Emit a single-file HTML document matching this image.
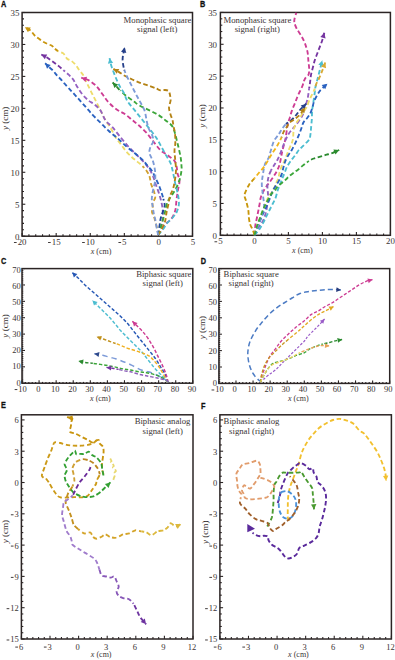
<!DOCTYPE html>
<html><head><meta charset="utf-8"><style>html,body{margin:0;padding:0;background:#fff;width:395px;height:660px;overflow:hidden}svg{display:block}</style></head>
<body><svg width="395" height="660" viewBox="0 0 395 660">
<rect width="395" height="660" fill="#fff"/>
<g stroke="#2b2424" stroke-width="1.1"><line x1="22.10" y1="236.20" x2="22.10" y2="233.00"/><line x1="28.92" y1="236.20" x2="28.92" y2="234.30"/><line x1="35.73" y1="236.20" x2="35.73" y2="234.30"/><line x1="42.55" y1="236.20" x2="42.55" y2="234.30"/><line x1="49.36" y1="236.20" x2="49.36" y2="234.30"/><line x1="56.18" y1="236.20" x2="56.18" y2="233.00"/><line x1="63.00" y1="236.20" x2="63.00" y2="234.30"/><line x1="69.81" y1="236.20" x2="69.81" y2="234.30"/><line x1="76.63" y1="236.20" x2="76.63" y2="234.30"/><line x1="83.44" y1="236.20" x2="83.44" y2="234.30"/><line x1="90.26" y1="236.20" x2="90.26" y2="233.00"/><line x1="97.08" y1="236.20" x2="97.08" y2="234.30"/><line x1="103.89" y1="236.20" x2="103.89" y2="234.30"/><line x1="110.71" y1="236.20" x2="110.71" y2="234.30"/><line x1="117.52" y1="236.20" x2="117.52" y2="234.30"/><line x1="124.34" y1="236.20" x2="124.34" y2="233.00"/><line x1="131.16" y1="236.20" x2="131.16" y2="234.30"/><line x1="137.97" y1="236.20" x2="137.97" y2="234.30"/><line x1="144.79" y1="236.20" x2="144.79" y2="234.30"/><line x1="151.60" y1="236.20" x2="151.60" y2="234.30"/><line x1="158.42" y1="236.20" x2="158.42" y2="233.00"/><line x1="165.24" y1="236.20" x2="165.24" y2="234.30"/><line x1="172.05" y1="236.20" x2="172.05" y2="234.30"/><line x1="178.87" y1="236.20" x2="178.87" y2="234.30"/><line x1="185.68" y1="236.20" x2="185.68" y2="234.30"/><line x1="192.50" y1="236.20" x2="192.50" y2="233.00"/><line x1="22.10" y1="236.20" x2="25.30" y2="236.20"/><line x1="22.10" y1="229.81" x2="24.00" y2="229.81"/><line x1="22.10" y1="223.42" x2="24.00" y2="223.42"/><line x1="22.10" y1="217.03" x2="24.00" y2="217.03"/><line x1="22.10" y1="210.63" x2="24.00" y2="210.63"/><line x1="22.10" y1="204.24" x2="25.30" y2="204.24"/><line x1="22.10" y1="197.85" x2="24.00" y2="197.85"/><line x1="22.10" y1="191.46" x2="24.00" y2="191.46"/><line x1="22.10" y1="185.07" x2="24.00" y2="185.07"/><line x1="22.10" y1="178.68" x2="24.00" y2="178.68"/><line x1="22.10" y1="172.29" x2="25.30" y2="172.29"/><line x1="22.10" y1="165.89" x2="24.00" y2="165.89"/><line x1="22.10" y1="159.50" x2="24.00" y2="159.50"/><line x1="22.10" y1="153.11" x2="24.00" y2="153.11"/><line x1="22.10" y1="146.72" x2="24.00" y2="146.72"/><line x1="22.10" y1="140.33" x2="25.30" y2="140.33"/><line x1="22.10" y1="133.94" x2="24.00" y2="133.94"/><line x1="22.10" y1="127.55" x2="24.00" y2="127.55"/><line x1="22.10" y1="121.15" x2="24.00" y2="121.15"/><line x1="22.10" y1="114.76" x2="24.00" y2="114.76"/><line x1="22.10" y1="108.37" x2="25.30" y2="108.37"/><line x1="22.10" y1="101.98" x2="24.00" y2="101.98"/><line x1="22.10" y1="95.59" x2="24.00" y2="95.59"/><line x1="22.10" y1="89.20" x2="24.00" y2="89.20"/><line x1="22.10" y1="82.81" x2="24.00" y2="82.81"/><line x1="22.10" y1="76.41" x2="25.30" y2="76.41"/><line x1="22.10" y1="70.02" x2="24.00" y2="70.02"/><line x1="22.10" y1="63.63" x2="24.00" y2="63.63"/><line x1="22.10" y1="57.24" x2="24.00" y2="57.24"/><line x1="22.10" y1="50.85" x2="24.00" y2="50.85"/><line x1="22.10" y1="44.46" x2="25.30" y2="44.46"/><line x1="22.10" y1="38.07" x2="24.00" y2="38.07"/><line x1="22.10" y1="31.67" x2="24.00" y2="31.67"/><line x1="22.10" y1="25.28" x2="24.00" y2="25.28"/><line x1="22.10" y1="18.89" x2="24.00" y2="18.89"/><line x1="22.10" y1="12.50" x2="25.30" y2="12.50"/></g>
<rect x="22.10" y="12.50" width="170.40" height="223.70" fill="none" stroke="#2b2424" stroke-width="1.5"/>
<g font-family="Liberation Serif" font-size="8.9" fill="#3a3434"><text x="22.10" y="244.90" text-anchor="middle">20</text><rect x="13.95" y="242.00" width="2.7" height="0.95"/><text x="56.18" y="244.90" text-anchor="middle">15</text><rect x="48.03" y="242.00" width="2.7" height="0.95"/><text x="90.26" y="244.90" text-anchor="middle">10</text><rect x="82.11" y="242.00" width="2.7" height="0.95"/><text x="124.34" y="244.90" text-anchor="middle">5</text><rect x="118.42" y="242.00" width="2.7" height="0.95"/><text x="158.82" y="244.90" text-anchor="middle">0</text><text x="192.90" y="244.90" text-anchor="middle">5</text><text x="19.40" y="239.60" text-anchor="end">0</text><text x="19.40" y="207.64" text-anchor="end">5</text><text x="19.40" y="175.69" text-anchor="end">10</text><text x="19.40" y="143.73" text-anchor="end">15</text><text x="19.40" y="111.77" text-anchor="end">20</text><text x="19.40" y="79.81" text-anchor="end">25</text><text x="19.40" y="47.86" text-anchor="end">30</text><text x="19.40" y="15.90" text-anchor="end">35</text></g>
<text x="101.10" y="253.80" text-anchor="middle" font-family="Liberation Serif" font-size="8" fill="#3a3434"><tspan font-style="italic">x</tspan> (cm)</text>
<text transform="translate(7.90,118.35) rotate(-90)" text-anchor="middle" font-family="Liberation Serif" font-size="9.1" fill="#3a3434"><tspan font-style="italic">y</tspan> (cm)</text>
<g stroke="#2b2424" stroke-width="1.1"><line x1="220.40" y1="235.30" x2="220.40" y2="232.10"/><line x1="227.20" y1="235.30" x2="227.20" y2="233.40"/><line x1="234.00" y1="235.30" x2="234.00" y2="233.40"/><line x1="240.80" y1="235.30" x2="240.80" y2="233.40"/><line x1="247.60" y1="235.30" x2="247.60" y2="233.40"/><line x1="254.40" y1="235.30" x2="254.40" y2="232.10"/><line x1="261.20" y1="235.30" x2="261.20" y2="233.40"/><line x1="268.00" y1="235.30" x2="268.00" y2="233.40"/><line x1="274.80" y1="235.30" x2="274.80" y2="233.40"/><line x1="281.60" y1="235.30" x2="281.60" y2="233.40"/><line x1="288.40" y1="235.30" x2="288.40" y2="232.10"/><line x1="295.20" y1="235.30" x2="295.20" y2="233.40"/><line x1="302.00" y1="235.30" x2="302.00" y2="233.40"/><line x1="308.80" y1="235.30" x2="308.80" y2="233.40"/><line x1="315.60" y1="235.30" x2="315.60" y2="233.40"/><line x1="322.40" y1="235.30" x2="322.40" y2="232.10"/><line x1="329.20" y1="235.30" x2="329.20" y2="233.40"/><line x1="336.00" y1="235.30" x2="336.00" y2="233.40"/><line x1="342.80" y1="235.30" x2="342.80" y2="233.40"/><line x1="349.60" y1="235.30" x2="349.60" y2="233.40"/><line x1="356.40" y1="235.30" x2="356.40" y2="232.10"/><line x1="363.20" y1="235.30" x2="363.20" y2="233.40"/><line x1="370.00" y1="235.30" x2="370.00" y2="233.40"/><line x1="376.80" y1="235.30" x2="376.80" y2="233.40"/><line x1="383.60" y1="235.30" x2="383.60" y2="233.40"/><line x1="390.40" y1="235.30" x2="390.40" y2="232.10"/><line x1="220.40" y1="235.30" x2="223.60" y2="235.30"/><line x1="220.40" y1="228.93" x2="222.30" y2="228.93"/><line x1="220.40" y1="222.57" x2="222.30" y2="222.57"/><line x1="220.40" y1="216.20" x2="222.30" y2="216.20"/><line x1="220.40" y1="209.83" x2="222.30" y2="209.83"/><line x1="220.40" y1="203.46" x2="223.60" y2="203.46"/><line x1="220.40" y1="197.10" x2="222.30" y2="197.10"/><line x1="220.40" y1="190.73" x2="222.30" y2="190.73"/><line x1="220.40" y1="184.36" x2="222.30" y2="184.36"/><line x1="220.40" y1="178.00" x2="222.30" y2="178.00"/><line x1="220.40" y1="171.63" x2="223.60" y2="171.63"/><line x1="220.40" y1="165.26" x2="222.30" y2="165.26"/><line x1="220.40" y1="158.89" x2="222.30" y2="158.89"/><line x1="220.40" y1="152.53" x2="222.30" y2="152.53"/><line x1="220.40" y1="146.16" x2="222.30" y2="146.16"/><line x1="220.40" y1="139.79" x2="223.60" y2="139.79"/><line x1="220.40" y1="133.43" x2="222.30" y2="133.43"/><line x1="220.40" y1="127.06" x2="222.30" y2="127.06"/><line x1="220.40" y1="120.69" x2="222.30" y2="120.69"/><line x1="220.40" y1="114.32" x2="222.30" y2="114.32"/><line x1="220.40" y1="107.96" x2="223.60" y2="107.96"/><line x1="220.40" y1="101.59" x2="222.30" y2="101.59"/><line x1="220.40" y1="95.22" x2="222.30" y2="95.22"/><line x1="220.40" y1="88.86" x2="222.30" y2="88.86"/><line x1="220.40" y1="82.49" x2="222.30" y2="82.49"/><line x1="220.40" y1="76.12" x2="223.60" y2="76.12"/><line x1="220.40" y1="69.75" x2="222.30" y2="69.75"/><line x1="220.40" y1="63.39" x2="222.30" y2="63.39"/><line x1="220.40" y1="57.02" x2="222.30" y2="57.02"/><line x1="220.40" y1="50.65" x2="222.30" y2="50.65"/><line x1="220.40" y1="44.29" x2="223.60" y2="44.29"/><line x1="220.40" y1="37.92" x2="222.30" y2="37.92"/><line x1="220.40" y1="31.55" x2="222.30" y2="31.55"/><line x1="220.40" y1="25.18" x2="222.30" y2="25.18"/><line x1="220.40" y1="18.82" x2="222.30" y2="18.82"/><line x1="220.40" y1="12.45" x2="223.60" y2="12.45"/></g>
<rect x="220.40" y="12.45" width="170.00" height="222.85" fill="none" stroke="#2b2424" stroke-width="1.5"/>
<g font-family="Liberation Serif" font-size="8.9" fill="#3a3434"><text x="220.40" y="244.20" text-anchor="middle">5</text><rect x="214.48" y="241.30" width="2.7" height="0.95"/><text x="254.40" y="244.20" text-anchor="middle">0</text><text x="288.40" y="244.20" text-anchor="middle">5</text><text x="322.40" y="244.20" text-anchor="middle">10</text><text x="356.40" y="244.20" text-anchor="middle">15</text><text x="390.40" y="244.20" text-anchor="middle">20</text><text x="217.00" y="238.70" text-anchor="end">0</text><text x="217.00" y="206.86" text-anchor="end">5</text><text x="217.00" y="175.03" text-anchor="end">10</text><text x="217.00" y="143.19" text-anchor="end">15</text><text x="217.00" y="111.36" text-anchor="end">20</text><text x="217.00" y="79.52" text-anchor="end">25</text><text x="217.00" y="47.69" text-anchor="end">30</text><text x="217.00" y="15.85" text-anchor="end">35</text></g>
<text x="302.40" y="252.90" text-anchor="middle" font-family="Liberation Serif" font-size="8" fill="#3a3434"><tspan font-style="italic">x</tspan> (cm)</text>
<text transform="translate(205.10,115.88) rotate(-90)" text-anchor="middle" font-family="Liberation Serif" font-size="9.1" fill="#3a3434"><tspan font-style="italic">y</tspan> (cm)</text>
<g stroke="#2b2424" stroke-width="1.1"><line x1="22.00" y1="383.20" x2="22.00" y2="380.20"/><line x1="25.42" y1="383.20" x2="25.42" y2="381.90"/><line x1="28.83" y1="383.20" x2="28.83" y2="381.90"/><line x1="32.25" y1="383.20" x2="32.25" y2="381.90"/><line x1="35.66" y1="383.20" x2="35.66" y2="381.90"/><line x1="39.08" y1="383.20" x2="39.08" y2="380.20"/><line x1="42.50" y1="383.20" x2="42.50" y2="381.90"/><line x1="45.91" y1="383.20" x2="45.91" y2="381.90"/><line x1="49.33" y1="383.20" x2="49.33" y2="381.90"/><line x1="52.74" y1="383.20" x2="52.74" y2="381.90"/><line x1="56.16" y1="383.20" x2="56.16" y2="380.20"/><line x1="59.58" y1="383.20" x2="59.58" y2="381.90"/><line x1="62.99" y1="383.20" x2="62.99" y2="381.90"/><line x1="66.41" y1="383.20" x2="66.41" y2="381.90"/><line x1="69.82" y1="383.20" x2="69.82" y2="381.90"/><line x1="73.24" y1="383.20" x2="73.24" y2="380.20"/><line x1="76.66" y1="383.20" x2="76.66" y2="381.90"/><line x1="80.07" y1="383.20" x2="80.07" y2="381.90"/><line x1="83.49" y1="383.20" x2="83.49" y2="381.90"/><line x1="86.90" y1="383.20" x2="86.90" y2="381.90"/><line x1="90.32" y1="383.20" x2="90.32" y2="380.20"/><line x1="93.74" y1="383.20" x2="93.74" y2="381.90"/><line x1="97.15" y1="383.20" x2="97.15" y2="381.90"/><line x1="100.57" y1="383.20" x2="100.57" y2="381.90"/><line x1="103.98" y1="383.20" x2="103.98" y2="381.90"/><line x1="107.40" y1="383.20" x2="107.40" y2="380.20"/><line x1="110.82" y1="383.20" x2="110.82" y2="381.90"/><line x1="114.23" y1="383.20" x2="114.23" y2="381.90"/><line x1="117.65" y1="383.20" x2="117.65" y2="381.90"/><line x1="121.06" y1="383.20" x2="121.06" y2="381.90"/><line x1="124.48" y1="383.20" x2="124.48" y2="380.20"/><line x1="127.90" y1="383.20" x2="127.90" y2="381.90"/><line x1="131.31" y1="383.20" x2="131.31" y2="381.90"/><line x1="134.73" y1="383.20" x2="134.73" y2="381.90"/><line x1="138.14" y1="383.20" x2="138.14" y2="381.90"/><line x1="141.56" y1="383.20" x2="141.56" y2="380.20"/><line x1="144.98" y1="383.20" x2="144.98" y2="381.90"/><line x1="148.39" y1="383.20" x2="148.39" y2="381.90"/><line x1="151.81" y1="383.20" x2="151.81" y2="381.90"/><line x1="155.22" y1="383.20" x2="155.22" y2="381.90"/><line x1="158.64" y1="383.20" x2="158.64" y2="380.20"/><line x1="162.06" y1="383.20" x2="162.06" y2="381.90"/><line x1="165.47" y1="383.20" x2="165.47" y2="381.90"/><line x1="168.89" y1="383.20" x2="168.89" y2="381.90"/><line x1="172.30" y1="383.20" x2="172.30" y2="381.90"/><line x1="175.72" y1="383.20" x2="175.72" y2="380.20"/><line x1="179.14" y1="383.20" x2="179.14" y2="381.90"/><line x1="182.55" y1="383.20" x2="182.55" y2="381.90"/><line x1="185.97" y1="383.20" x2="185.97" y2="381.90"/><line x1="189.38" y1="383.20" x2="189.38" y2="381.90"/><line x1="192.80" y1="383.20" x2="192.80" y2="380.20"/><line x1="22.00" y1="383.20" x2="25.00" y2="383.20"/><line x1="22.00" y1="381.15" x2="23.30" y2="381.15"/><line x1="22.00" y1="379.11" x2="23.30" y2="379.11"/><line x1="22.00" y1="377.06" x2="23.30" y2="377.06"/><line x1="22.00" y1="375.01" x2="23.30" y2="375.01"/><line x1="22.00" y1="372.97" x2="23.30" y2="372.97"/><line x1="22.00" y1="370.92" x2="23.30" y2="370.92"/><line x1="22.00" y1="368.88" x2="23.30" y2="368.88"/><line x1="22.00" y1="366.83" x2="25.00" y2="366.83"/><line x1="22.00" y1="364.78" x2="23.30" y2="364.78"/><line x1="22.00" y1="362.74" x2="23.30" y2="362.74"/><line x1="22.00" y1="360.69" x2="23.30" y2="360.69"/><line x1="22.00" y1="358.64" x2="23.30" y2="358.64"/><line x1="22.00" y1="356.60" x2="23.30" y2="356.60"/><line x1="22.00" y1="354.55" x2="23.30" y2="354.55"/><line x1="22.00" y1="352.50" x2="23.30" y2="352.50"/><line x1="22.00" y1="350.46" x2="25.00" y2="350.46"/><line x1="22.00" y1="348.41" x2="23.30" y2="348.41"/><line x1="22.00" y1="346.36" x2="23.30" y2="346.36"/><line x1="22.00" y1="344.32" x2="23.30" y2="344.32"/><line x1="22.00" y1="342.27" x2="23.30" y2="342.27"/><line x1="22.00" y1="340.23" x2="23.30" y2="340.23"/><line x1="22.00" y1="338.18" x2="23.30" y2="338.18"/><line x1="22.00" y1="336.13" x2="23.30" y2="336.13"/><line x1="22.00" y1="334.09" x2="25.00" y2="334.09"/><line x1="22.00" y1="332.04" x2="23.30" y2="332.04"/><line x1="22.00" y1="329.99" x2="23.30" y2="329.99"/><line x1="22.00" y1="327.95" x2="23.30" y2="327.95"/><line x1="22.00" y1="325.90" x2="23.30" y2="325.90"/><line x1="22.00" y1="323.85" x2="23.30" y2="323.85"/><line x1="22.00" y1="321.81" x2="23.30" y2="321.81"/><line x1="22.00" y1="319.76" x2="23.30" y2="319.76"/><line x1="22.00" y1="317.71" x2="25.00" y2="317.71"/><line x1="22.00" y1="315.67" x2="23.30" y2="315.67"/><line x1="22.00" y1="313.62" x2="23.30" y2="313.62"/><line x1="22.00" y1="311.58" x2="23.30" y2="311.58"/><line x1="22.00" y1="309.53" x2="23.30" y2="309.53"/><line x1="22.00" y1="307.48" x2="23.30" y2="307.48"/><line x1="22.00" y1="305.44" x2="23.30" y2="305.44"/><line x1="22.00" y1="303.39" x2="23.30" y2="303.39"/><line x1="22.00" y1="301.34" x2="25.00" y2="301.34"/><line x1="22.00" y1="299.30" x2="23.30" y2="299.30"/><line x1="22.00" y1="297.25" x2="23.30" y2="297.25"/><line x1="22.00" y1="295.20" x2="23.30" y2="295.20"/><line x1="22.00" y1="293.16" x2="23.30" y2="293.16"/><line x1="22.00" y1="291.11" x2="23.30" y2="291.11"/><line x1="22.00" y1="289.06" x2="23.30" y2="289.06"/><line x1="22.00" y1="287.02" x2="23.30" y2="287.02"/><line x1="22.00" y1="284.97" x2="25.00" y2="284.97"/><line x1="22.00" y1="282.93" x2="23.30" y2="282.93"/><line x1="22.00" y1="280.88" x2="23.30" y2="280.88"/><line x1="22.00" y1="278.83" x2="23.30" y2="278.83"/><line x1="22.00" y1="276.79" x2="23.30" y2="276.79"/><line x1="22.00" y1="274.74" x2="23.30" y2="274.74"/><line x1="22.00" y1="272.69" x2="23.30" y2="272.69"/><line x1="22.00" y1="270.65" x2="23.30" y2="270.65"/><line x1="22.00" y1="268.60" x2="25.00" y2="268.60"/></g>
<rect x="22.00" y="268.60" width="170.80" height="114.60" fill="none" stroke="#2b2424" stroke-width="1.5"/>
<g font-family="Liberation Serif" font-size="8.5" fill="#3a3434"><text x="22.60" y="392.00" text-anchor="middle">10</text><rect x="14.65" y="389.10" width="2.7" height="0.95"/><text x="38.28" y="392.00" text-anchor="middle">0</text><text x="55.36" y="392.00" text-anchor="middle">10</text><text x="72.44" y="392.00" text-anchor="middle">20</text><text x="89.52" y="392.00" text-anchor="middle">30</text><text x="106.60" y="392.00" text-anchor="middle">40</text><text x="123.68" y="392.00" text-anchor="middle">50</text><text x="140.76" y="392.00" text-anchor="middle">60</text><text x="157.84" y="392.00" text-anchor="middle">70</text><text x="174.92" y="392.00" text-anchor="middle">80</text><text x="192.00" y="392.00" text-anchor="middle">90</text><text x="20.70" y="385.55" text-anchor="end">0</text><text x="20.70" y="369.48" text-anchor="end">10</text><text x="20.70" y="353.41" text-anchor="end">20</text><text x="20.70" y="337.34" text-anchor="end">30</text><text x="20.70" y="321.26" text-anchor="end">40</text><text x="20.70" y="305.19" text-anchor="end">50</text><text x="20.70" y="289.12" text-anchor="end">60</text><text x="20.70" y="273.05" text-anchor="end">70</text></g>
<text x="100.40" y="400.80" text-anchor="middle" font-family="Liberation Serif" font-size="8" fill="#3a3434"><tspan font-style="italic">x</tspan> (cm)</text>
<text transform="translate(8.30,325.90) rotate(-90)" text-anchor="middle" font-family="Liberation Serif" font-size="9.1" fill="#3a3434"><tspan font-style="italic">y</tspan> (cm)</text>
<g stroke="#2b2424" stroke-width="1.1"><line x1="218.90" y1="383.40" x2="218.90" y2="380.40"/><line x1="222.32" y1="383.40" x2="222.32" y2="382.10"/><line x1="225.73" y1="383.40" x2="225.73" y2="382.10"/><line x1="229.15" y1="383.40" x2="229.15" y2="382.10"/><line x1="232.56" y1="383.40" x2="232.56" y2="382.10"/><line x1="235.98" y1="383.40" x2="235.98" y2="380.40"/><line x1="239.40" y1="383.40" x2="239.40" y2="382.10"/><line x1="242.81" y1="383.40" x2="242.81" y2="382.10"/><line x1="246.23" y1="383.40" x2="246.23" y2="382.10"/><line x1="249.64" y1="383.40" x2="249.64" y2="382.10"/><line x1="253.06" y1="383.40" x2="253.06" y2="380.40"/><line x1="256.48" y1="383.40" x2="256.48" y2="382.10"/><line x1="259.89" y1="383.40" x2="259.89" y2="382.10"/><line x1="263.31" y1="383.40" x2="263.31" y2="382.10"/><line x1="266.72" y1="383.40" x2="266.72" y2="382.10"/><line x1="270.14" y1="383.40" x2="270.14" y2="380.40"/><line x1="273.56" y1="383.40" x2="273.56" y2="382.10"/><line x1="276.97" y1="383.40" x2="276.97" y2="382.10"/><line x1="280.39" y1="383.40" x2="280.39" y2="382.10"/><line x1="283.80" y1="383.40" x2="283.80" y2="382.10"/><line x1="287.22" y1="383.40" x2="287.22" y2="380.40"/><line x1="290.64" y1="383.40" x2="290.64" y2="382.10"/><line x1="294.05" y1="383.40" x2="294.05" y2="382.10"/><line x1="297.47" y1="383.40" x2="297.47" y2="382.10"/><line x1="300.88" y1="383.40" x2="300.88" y2="382.10"/><line x1="304.30" y1="383.40" x2="304.30" y2="380.40"/><line x1="307.72" y1="383.40" x2="307.72" y2="382.10"/><line x1="311.13" y1="383.40" x2="311.13" y2="382.10"/><line x1="314.55" y1="383.40" x2="314.55" y2="382.10"/><line x1="317.96" y1="383.40" x2="317.96" y2="382.10"/><line x1="321.38" y1="383.40" x2="321.38" y2="380.40"/><line x1="324.80" y1="383.40" x2="324.80" y2="382.10"/><line x1="328.21" y1="383.40" x2="328.21" y2="382.10"/><line x1="331.63" y1="383.40" x2="331.63" y2="382.10"/><line x1="335.04" y1="383.40" x2="335.04" y2="382.10"/><line x1="338.46" y1="383.40" x2="338.46" y2="380.40"/><line x1="341.88" y1="383.40" x2="341.88" y2="382.10"/><line x1="345.29" y1="383.40" x2="345.29" y2="382.10"/><line x1="348.71" y1="383.40" x2="348.71" y2="382.10"/><line x1="352.12" y1="383.40" x2="352.12" y2="382.10"/><line x1="355.54" y1="383.40" x2="355.54" y2="380.40"/><line x1="358.96" y1="383.40" x2="358.96" y2="382.10"/><line x1="362.37" y1="383.40" x2="362.37" y2="382.10"/><line x1="365.79" y1="383.40" x2="365.79" y2="382.10"/><line x1="369.20" y1="383.40" x2="369.20" y2="382.10"/><line x1="372.62" y1="383.40" x2="372.62" y2="380.40"/><line x1="376.04" y1="383.40" x2="376.04" y2="382.10"/><line x1="379.45" y1="383.40" x2="379.45" y2="382.10"/><line x1="382.87" y1="383.40" x2="382.87" y2="382.10"/><line x1="386.28" y1="383.40" x2="386.28" y2="382.10"/><line x1="389.70" y1="383.40" x2="389.70" y2="380.40"/><line x1="218.90" y1="383.40" x2="221.90" y2="383.40"/><line x1="218.90" y1="381.35" x2="220.20" y2="381.35"/><line x1="218.90" y1="379.30" x2="220.20" y2="379.30"/><line x1="218.90" y1="377.25" x2="220.20" y2="377.25"/><line x1="218.90" y1="375.20" x2="220.20" y2="375.20"/><line x1="218.90" y1="373.15" x2="220.20" y2="373.15"/><line x1="218.90" y1="371.10" x2="220.20" y2="371.10"/><line x1="218.90" y1="369.05" x2="220.20" y2="369.05"/><line x1="218.90" y1="367.00" x2="221.90" y2="367.00"/><line x1="218.90" y1="364.95" x2="220.20" y2="364.95"/><line x1="218.90" y1="362.90" x2="220.20" y2="362.90"/><line x1="218.90" y1="360.85" x2="220.20" y2="360.85"/><line x1="218.90" y1="358.80" x2="220.20" y2="358.80"/><line x1="218.90" y1="356.75" x2="220.20" y2="356.75"/><line x1="218.90" y1="354.70" x2="220.20" y2="354.70"/><line x1="218.90" y1="352.65" x2="220.20" y2="352.65"/><line x1="218.90" y1="350.60" x2="221.90" y2="350.60"/><line x1="218.90" y1="348.55" x2="220.20" y2="348.55"/><line x1="218.90" y1="346.50" x2="220.20" y2="346.50"/><line x1="218.90" y1="344.45" x2="220.20" y2="344.45"/><line x1="218.90" y1="342.40" x2="220.20" y2="342.40"/><line x1="218.90" y1="340.35" x2="220.20" y2="340.35"/><line x1="218.90" y1="338.30" x2="220.20" y2="338.30"/><line x1="218.90" y1="336.25" x2="220.20" y2="336.25"/><line x1="218.90" y1="334.20" x2="221.90" y2="334.20"/><line x1="218.90" y1="332.15" x2="220.20" y2="332.15"/><line x1="218.90" y1="330.10" x2="220.20" y2="330.10"/><line x1="218.90" y1="328.05" x2="220.20" y2="328.05"/><line x1="218.90" y1="326.00" x2="220.20" y2="326.00"/><line x1="218.90" y1="323.95" x2="220.20" y2="323.95"/><line x1="218.90" y1="321.90" x2="220.20" y2="321.90"/><line x1="218.90" y1="319.85" x2="220.20" y2="319.85"/><line x1="218.90" y1="317.80" x2="221.90" y2="317.80"/><line x1="218.90" y1="315.75" x2="220.20" y2="315.75"/><line x1="218.90" y1="313.70" x2="220.20" y2="313.70"/><line x1="218.90" y1="311.65" x2="220.20" y2="311.65"/><line x1="218.90" y1="309.60" x2="220.20" y2="309.60"/><line x1="218.90" y1="307.55" x2="220.20" y2="307.55"/><line x1="218.90" y1="305.50" x2="220.20" y2="305.50"/><line x1="218.90" y1="303.45" x2="220.20" y2="303.45"/><line x1="218.90" y1="301.40" x2="221.90" y2="301.40"/><line x1="218.90" y1="299.35" x2="220.20" y2="299.35"/><line x1="218.90" y1="297.30" x2="220.20" y2="297.30"/><line x1="218.90" y1="295.25" x2="220.20" y2="295.25"/><line x1="218.90" y1="293.20" x2="220.20" y2="293.20"/><line x1="218.90" y1="291.15" x2="220.20" y2="291.15"/><line x1="218.90" y1="289.10" x2="220.20" y2="289.10"/><line x1="218.90" y1="287.05" x2="220.20" y2="287.05"/><line x1="218.90" y1="285.00" x2="221.90" y2="285.00"/><line x1="218.90" y1="282.95" x2="220.20" y2="282.95"/><line x1="218.90" y1="280.90" x2="220.20" y2="280.90"/><line x1="218.90" y1="278.85" x2="220.20" y2="278.85"/><line x1="218.90" y1="276.80" x2="220.20" y2="276.80"/><line x1="218.90" y1="274.75" x2="220.20" y2="274.75"/><line x1="218.90" y1="272.70" x2="220.20" y2="272.70"/><line x1="218.90" y1="270.65" x2="220.20" y2="270.65"/><line x1="218.90" y1="268.60" x2="221.90" y2="268.60"/></g>
<rect x="218.90" y="268.60" width="170.80" height="114.80" fill="none" stroke="#2b2424" stroke-width="1.5"/>
<g font-family="Liberation Serif" font-size="8.5" fill="#3a3434"><text x="219.50" y="392.40" text-anchor="middle">10</text><rect x="211.55" y="389.50" width="2.7" height="0.95"/><text x="234.58" y="392.40" text-anchor="middle">0</text><text x="251.66" y="392.40" text-anchor="middle">10</text><text x="268.74" y="392.40" text-anchor="middle">20</text><text x="285.82" y="392.40" text-anchor="middle">30</text><text x="302.90" y="392.40" text-anchor="middle">40</text><text x="319.98" y="392.40" text-anchor="middle">50</text><text x="337.06" y="392.40" text-anchor="middle">60</text><text x="354.14" y="392.40" text-anchor="middle">70</text><text x="371.22" y="392.40" text-anchor="middle">80</text><text x="388.30" y="392.40" text-anchor="middle">90</text><text x="216.90" y="385.75" text-anchor="end">0</text><text x="216.90" y="369.65" text-anchor="end">10</text><text x="216.90" y="353.55" text-anchor="end">20</text><text x="216.90" y="337.45" text-anchor="end">30</text><text x="216.90" y="321.35" text-anchor="end">40</text><text x="216.90" y="305.25" text-anchor="end">50</text><text x="216.90" y="289.15" text-anchor="end">60</text><text x="216.90" y="273.05" text-anchor="end">70</text></g>
<text x="298.30" y="401.00" text-anchor="middle" font-family="Liberation Serif" font-size="8" fill="#3a3434"><tspan font-style="italic">x</tspan> (cm)</text>
<text transform="translate(205.40,327.60) rotate(-90)" text-anchor="middle" font-family="Liberation Serif" font-size="9.1" fill="#3a3434"><tspan font-style="italic">y</tspan> (cm)</text>
<g stroke="#2b2424" stroke-width="1.1"><line x1="21.40" y1="639.00" x2="21.40" y2="635.80"/><line x1="27.12" y1="639.00" x2="27.12" y2="637.10"/><line x1="32.84" y1="639.00" x2="32.84" y2="637.10"/><line x1="38.56" y1="639.00" x2="38.56" y2="637.10"/><line x1="44.28" y1="639.00" x2="44.28" y2="637.10"/><line x1="50.00" y1="639.00" x2="50.00" y2="635.80"/><line x1="55.72" y1="639.00" x2="55.72" y2="637.10"/><line x1="61.44" y1="639.00" x2="61.44" y2="637.10"/><line x1="67.16" y1="639.00" x2="67.16" y2="637.10"/><line x1="72.88" y1="639.00" x2="72.88" y2="637.10"/><line x1="78.60" y1="639.00" x2="78.60" y2="635.80"/><line x1="84.32" y1="639.00" x2="84.32" y2="637.10"/><line x1="90.04" y1="639.00" x2="90.04" y2="637.10"/><line x1="95.76" y1="639.00" x2="95.76" y2="637.10"/><line x1="101.48" y1="639.00" x2="101.48" y2="637.10"/><line x1="107.20" y1="639.00" x2="107.20" y2="635.80"/><line x1="112.92" y1="639.00" x2="112.92" y2="637.10"/><line x1="118.64" y1="639.00" x2="118.64" y2="637.10"/><line x1="124.36" y1="639.00" x2="124.36" y2="637.10"/><line x1="130.08" y1="639.00" x2="130.08" y2="637.10"/><line x1="135.80" y1="639.00" x2="135.80" y2="635.80"/><line x1="141.52" y1="639.00" x2="141.52" y2="637.10"/><line x1="147.24" y1="639.00" x2="147.24" y2="637.10"/><line x1="152.96" y1="639.00" x2="152.96" y2="637.10"/><line x1="158.68" y1="639.00" x2="158.68" y2="637.10"/><line x1="164.40" y1="639.00" x2="164.40" y2="635.80"/><line x1="170.12" y1="639.00" x2="170.12" y2="637.10"/><line x1="175.84" y1="639.00" x2="175.84" y2="637.10"/><line x1="181.56" y1="639.00" x2="181.56" y2="637.10"/><line x1="187.28" y1="639.00" x2="187.28" y2="637.10"/><line x1="193.00" y1="639.00" x2="193.00" y2="635.80"/><line x1="21.40" y1="639.00" x2="24.60" y2="639.00"/><line x1="21.40" y1="632.74" x2="23.30" y2="632.74"/><line x1="21.40" y1="626.48" x2="23.30" y2="626.48"/><line x1="21.40" y1="620.22" x2="23.30" y2="620.22"/><line x1="21.40" y1="613.96" x2="23.30" y2="613.96"/><line x1="21.40" y1="607.70" x2="24.60" y2="607.70"/><line x1="21.40" y1="601.44" x2="23.30" y2="601.44"/><line x1="21.40" y1="595.18" x2="23.30" y2="595.18"/><line x1="21.40" y1="588.92" x2="23.30" y2="588.92"/><line x1="21.40" y1="582.66" x2="23.30" y2="582.66"/><line x1="21.40" y1="576.40" x2="24.60" y2="576.40"/><line x1="21.40" y1="570.14" x2="23.30" y2="570.14"/><line x1="21.40" y1="563.88" x2="23.30" y2="563.88"/><line x1="21.40" y1="557.62" x2="23.30" y2="557.62"/><line x1="21.40" y1="551.36" x2="23.30" y2="551.36"/><line x1="21.40" y1="545.11" x2="24.60" y2="545.11"/><line x1="21.40" y1="538.85" x2="23.30" y2="538.85"/><line x1="21.40" y1="532.59" x2="23.30" y2="532.59"/><line x1="21.40" y1="526.33" x2="23.30" y2="526.33"/><line x1="21.40" y1="520.07" x2="23.30" y2="520.07"/><line x1="21.40" y1="513.81" x2="24.60" y2="513.81"/><line x1="21.40" y1="507.55" x2="23.30" y2="507.55"/><line x1="21.40" y1="501.29" x2="23.30" y2="501.29"/><line x1="21.40" y1="495.03" x2="23.30" y2="495.03"/><line x1="21.40" y1="488.77" x2="23.30" y2="488.77"/><line x1="21.40" y1="482.51" x2="24.60" y2="482.51"/><line x1="21.40" y1="476.25" x2="23.30" y2="476.25"/><line x1="21.40" y1="469.99" x2="23.30" y2="469.99"/><line x1="21.40" y1="463.73" x2="23.30" y2="463.73"/><line x1="21.40" y1="457.47" x2="23.30" y2="457.47"/><line x1="21.40" y1="451.21" x2="24.60" y2="451.21"/><line x1="21.40" y1="444.95" x2="23.30" y2="444.95"/><line x1="21.40" y1="438.69" x2="23.30" y2="438.69"/><line x1="21.40" y1="432.43" x2="23.30" y2="432.43"/><line x1="21.40" y1="426.17" x2="23.30" y2="426.17"/><line x1="21.40" y1="419.91" x2="24.60" y2="419.91"/></g>
<rect x="21.40" y="414.80" width="171.60" height="224.20" fill="none" stroke="#2b2424" stroke-width="1.5"/>
<g font-family="Liberation Serif" font-size="8.5" fill="#3a3434"><text x="21.10" y="649.50" text-anchor="middle">6</text><rect x="15.27" y="646.60" width="2.7" height="0.95"/><text x="49.70" y="649.50" text-anchor="middle">3</text><rect x="43.88" y="646.60" width="2.7" height="0.95"/><text x="77.60" y="649.50" text-anchor="middle">0</text><text x="106.20" y="649.50" text-anchor="middle">3</text><text x="134.80" y="649.50" text-anchor="middle">6</text><text x="163.40" y="649.50" text-anchor="middle">9</text><text x="192.00" y="649.50" text-anchor="middle">12</text><text x="18.80" y="642.40" text-anchor="end">15</text><rect x="6.60" y="639.50" width="2.7" height="0.95"/><text x="18.80" y="611.10" text-anchor="end">12</text><rect x="6.60" y="608.20" width="2.7" height="0.95"/><text x="18.80" y="579.80" text-anchor="end">9</text><rect x="10.85" y="576.90" width="2.7" height="0.95"/><text x="18.80" y="548.51" text-anchor="end">6</text><rect x="10.85" y="545.61" width="2.7" height="0.95"/><text x="18.80" y="517.21" text-anchor="end">3</text><rect x="10.85" y="514.31" width="2.7" height="0.95"/><text x="18.80" y="485.91" text-anchor="end">0</text><text x="18.80" y="454.61" text-anchor="end">3</text><text x="18.80" y="423.31" text-anchor="end">6</text></g>
<text x="101.20" y="657.00" text-anchor="middle" font-family="Liberation Serif" font-size="8" fill="#3a3434"><tspan font-style="italic">x</tspan> (cm)</text>
<text transform="translate(8.00,531.60) rotate(-90)" text-anchor="middle" font-family="Liberation Serif" font-size="9.1" fill="#3a3434"><tspan font-style="italic">y</tspan> (cm)</text>
<g stroke="#2b2424" stroke-width="1.1"><line x1="219.90" y1="639.00" x2="219.90" y2="635.80"/><line x1="225.62" y1="639.00" x2="225.62" y2="637.10"/><line x1="231.33" y1="639.00" x2="231.33" y2="637.10"/><line x1="237.05" y1="639.00" x2="237.05" y2="637.10"/><line x1="242.77" y1="639.00" x2="242.77" y2="637.10"/><line x1="248.48" y1="639.00" x2="248.48" y2="635.80"/><line x1="254.20" y1="639.00" x2="254.20" y2="637.10"/><line x1="259.92" y1="639.00" x2="259.92" y2="637.10"/><line x1="265.63" y1="639.00" x2="265.63" y2="637.10"/><line x1="271.35" y1="639.00" x2="271.35" y2="637.10"/><line x1="277.07" y1="639.00" x2="277.07" y2="635.80"/><line x1="282.78" y1="639.00" x2="282.78" y2="637.10"/><line x1="288.50" y1="639.00" x2="288.50" y2="637.10"/><line x1="294.22" y1="639.00" x2="294.22" y2="637.10"/><line x1="299.93" y1="639.00" x2="299.93" y2="637.10"/><line x1="305.65" y1="639.00" x2="305.65" y2="635.80"/><line x1="311.37" y1="639.00" x2="311.37" y2="637.10"/><line x1="317.08" y1="639.00" x2="317.08" y2="637.10"/><line x1="322.80" y1="639.00" x2="322.80" y2="637.10"/><line x1="328.52" y1="639.00" x2="328.52" y2="637.10"/><line x1="334.23" y1="639.00" x2="334.23" y2="635.80"/><line x1="339.95" y1="639.00" x2="339.95" y2="637.10"/><line x1="345.67" y1="639.00" x2="345.67" y2="637.10"/><line x1="351.38" y1="639.00" x2="351.38" y2="637.10"/><line x1="357.10" y1="639.00" x2="357.10" y2="637.10"/><line x1="362.82" y1="639.00" x2="362.82" y2="635.80"/><line x1="368.53" y1="639.00" x2="368.53" y2="637.10"/><line x1="374.25" y1="639.00" x2="374.25" y2="637.10"/><line x1="379.97" y1="639.00" x2="379.97" y2="637.10"/><line x1="385.68" y1="639.00" x2="385.68" y2="637.10"/><line x1="391.40" y1="639.00" x2="391.40" y2="635.80"/><line x1="219.90" y1="639.00" x2="223.10" y2="639.00"/><line x1="219.90" y1="632.74" x2="221.80" y2="632.74"/><line x1="219.90" y1="626.48" x2="221.80" y2="626.48"/><line x1="219.90" y1="620.22" x2="221.80" y2="620.22"/><line x1="219.90" y1="613.96" x2="221.80" y2="613.96"/><line x1="219.90" y1="607.70" x2="223.10" y2="607.70"/><line x1="219.90" y1="601.44" x2="221.80" y2="601.44"/><line x1="219.90" y1="595.18" x2="221.80" y2="595.18"/><line x1="219.90" y1="588.92" x2="221.80" y2="588.92"/><line x1="219.90" y1="582.66" x2="221.80" y2="582.66"/><line x1="219.90" y1="576.40" x2="223.10" y2="576.40"/><line x1="219.90" y1="570.14" x2="221.80" y2="570.14"/><line x1="219.90" y1="563.88" x2="221.80" y2="563.88"/><line x1="219.90" y1="557.62" x2="221.80" y2="557.62"/><line x1="219.90" y1="551.36" x2="221.80" y2="551.36"/><line x1="219.90" y1="545.11" x2="223.10" y2="545.11"/><line x1="219.90" y1="538.85" x2="221.80" y2="538.85"/><line x1="219.90" y1="532.59" x2="221.80" y2="532.59"/><line x1="219.90" y1="526.33" x2="221.80" y2="526.33"/><line x1="219.90" y1="520.07" x2="221.80" y2="520.07"/><line x1="219.90" y1="513.81" x2="223.10" y2="513.81"/><line x1="219.90" y1="507.55" x2="221.80" y2="507.55"/><line x1="219.90" y1="501.29" x2="221.80" y2="501.29"/><line x1="219.90" y1="495.03" x2="221.80" y2="495.03"/><line x1="219.90" y1="488.77" x2="221.80" y2="488.77"/><line x1="219.90" y1="482.51" x2="223.10" y2="482.51"/><line x1="219.90" y1="476.25" x2="221.80" y2="476.25"/><line x1="219.90" y1="469.99" x2="221.80" y2="469.99"/><line x1="219.90" y1="463.73" x2="221.80" y2="463.73"/><line x1="219.90" y1="457.47" x2="221.80" y2="457.47"/><line x1="219.90" y1="451.21" x2="223.10" y2="451.21"/><line x1="219.90" y1="444.95" x2="221.80" y2="444.95"/><line x1="219.90" y1="438.69" x2="221.80" y2="438.69"/><line x1="219.90" y1="432.43" x2="221.80" y2="432.43"/><line x1="219.90" y1="426.17" x2="221.80" y2="426.17"/><line x1="219.90" y1="419.91" x2="223.10" y2="419.91"/></g>
<rect x="219.90" y="414.80" width="171.50" height="224.20" fill="none" stroke="#2b2424" stroke-width="1.5"/>
<g font-family="Liberation Serif" font-size="8.5" fill="#3a3434"><text x="219.60" y="649.50" text-anchor="middle">6</text><rect x="213.78" y="646.60" width="2.7" height="0.95"/><text x="248.18" y="649.50" text-anchor="middle">3</text><rect x="242.36" y="646.60" width="2.7" height="0.95"/><text x="276.07" y="649.50" text-anchor="middle">0</text><text x="304.65" y="649.50" text-anchor="middle">3</text><text x="333.23" y="649.50" text-anchor="middle">6</text><text x="361.82" y="649.50" text-anchor="middle">9</text><text x="390.40" y="649.50" text-anchor="middle">12</text><text x="217.30" y="642.40" text-anchor="end">15</text><rect x="205.10" y="639.50" width="2.7" height="0.95"/><text x="217.30" y="611.10" text-anchor="end">12</text><rect x="205.10" y="608.20" width="2.7" height="0.95"/><text x="217.30" y="579.80" text-anchor="end">9</text><rect x="209.35" y="576.90" width="2.7" height="0.95"/><text x="217.30" y="548.51" text-anchor="end">6</text><rect x="209.35" y="545.61" width="2.7" height="0.95"/><text x="217.30" y="517.21" text-anchor="end">3</text><rect x="209.35" y="514.31" width="2.7" height="0.95"/><text x="217.30" y="485.91" text-anchor="end">0</text><text x="217.30" y="454.61" text-anchor="end">3</text><text x="217.30" y="423.31" text-anchor="end">6</text></g>
<text x="298.45" y="657.00" text-anchor="middle" font-family="Liberation Serif" font-size="8" fill="#3a3434"><tspan font-style="italic">x</tspan> (cm)</text>
<text transform="translate(207.50,532.30) rotate(-90)" text-anchor="middle" font-family="Liberation Serif" font-size="9.1" fill="#3a3434"><tspan font-style="italic">y</tspan> (cm)</text>
<path d="M158.4,235.0 C158.3,234.7 158.2,234.2 158.0,233.0 C157.8,231.8 157.4,229.8 157.0,228.0 C156.6,226.2 156.0,223.8 155.5,222.0 C155.0,220.2 154.6,218.6 154.0,217.0 C153.4,215.4 152.2,213.7 152.0,212.2 C151.8,210.7 152.6,209.4 152.7,207.8 C152.8,206.2 152.3,204.4 152.7,202.7 C153.1,201.0 155.0,199.6 155.2,197.7 C155.4,195.8 154.6,193.6 153.9,191.3 C153.2,189.0 151.7,186.2 151.0,183.8 C150.3,181.4 150.3,178.8 149.6,176.7 C148.9,174.6 148.2,173.2 147.0,171.4 C145.8,169.6 144.1,167.7 142.5,166.1" fill="none" stroke="#d0a030" stroke-width="1.85" stroke-dasharray="4.5 2.6" stroke-dashoffset="-0.0" stroke-linecap="butt"/>
<path d="M142.5,166.1 C140.9,164.5 139.0,163.1 137.2,161.6 C135.4,160.1 133.7,158.8 131.9,157.2 C130.1,155.6 128.4,154.0 126.6,151.9 C124.8,149.8 123.1,147.2 121.3,144.8 C119.5,142.4 117.7,140.5 115.9,137.7 C114.1,134.9 112.5,131.2 110.6,128.0 C108.7,124.8 106.3,121.5 104.6,118.6 C102.9,115.7 101.8,113.2 100.5,110.5 C99.2,107.8 97.8,105.1 96.5,102.4 C95.2,99.7 93.8,97.0 92.4,94.3 C91.1,91.6 89.6,88.8 88.4,86.2 C87.2,83.7 85.9,81.0 85.0,79.0 C84.1,77.0 83.7,75.9 82.8,74.5 C81.9,73.1 80.6,72.0 79.5,70.5 C78.4,69.0 77.5,67.2 76.2,65.6 C74.9,64.0 73.1,62.1 71.6,61.0 C70.1,59.9 68.5,60.0 67.1,58.7 C65.7,57.4 64.8,54.7 63.3,53.4 C61.8,52.1 59.5,52.0 58.0,51.1" fill="none" stroke="#eedc6a" stroke-width="1.85" stroke-dasharray="4.5 2.6" stroke-dashoffset="-73.7" stroke-linecap="butt"/>
<path d="M58.0,51.1 C56.5,50.2 55.2,49.0 54.2,48.1 C53.2,47.2 53.2,46.6 51.9,45.8 C50.6,45.0 48.4,44.4 46.6,43.5 C44.8,42.6 43.2,41.8 41.3,40.5 C39.4,39.2 37.0,37.6 35.2,36.0 C33.4,34.4 32.3,32.1 30.6,30.6 C28.9,29.2 25.8,27.9 24.9,27.3" fill="none" stroke="#c9960f" stroke-width="1.85" stroke-dasharray="4.5 2.6" stroke-dashoffset="-219.3" stroke-linecap="butt"/>
<path d="M24.9,27.3 L30.8,27.6 L28.0,32.2 Z" fill="#c9960f"/>
<path d="M158.4,235.0 C158.6,234.5 159.0,233.6 159.5,232.0 C160.0,230.4 160.9,227.6 161.5,225.5 C162.1,223.4 162.6,221.1 162.8,219.2 C163.1,217.3 163.1,216.4 163.0,214.0 C162.9,211.6 162.6,208.2 162.0,205.0 C161.4,201.8 160.5,198.3 159.5,195.0 C158.5,191.7 157.1,188.1 156.0,185.0 C154.9,181.9 154.3,179.3 153.2,176.7" fill="none" stroke="#9062bc" stroke-width="1.85" stroke-dasharray="4.5 2.6" stroke-dashoffset="-0.0" stroke-linecap="butt"/>
<path d="M153.2,176.7 C152.1,174.1 151.1,172.0 149.6,169.6 C148.1,167.2 146.4,164.9 144.3,162.5 C142.2,160.1 139.8,158.1 137.2,155.4 C134.5,152.8 131.3,149.8 128.4,146.6 C125.5,143.4 122.2,139.2 119.5,136.0 C116.8,132.8 114.7,129.7 112.4,127.1 C110.1,124.5 107.6,123.4 105.6,120.6 C103.6,117.8 102.4,113.2 100.5,110.5 C98.6,107.8 96.4,106.1 94.4,104.4 C92.4,102.7 90.4,102.1 88.4,100.4 C86.4,98.7 84.2,96.6 82.3,94.3 C80.4,92.0 78.5,89.0 77.0,86.5 C75.5,84.0 74.6,81.5 73.2,79.5 C71.8,77.5 70.2,76.3 68.6,74.7 C66.9,73.1 65.1,71.6 63.3,70.1" fill="none" stroke="#9460c2" stroke-width="1.85" stroke-dasharray="4.5 2.6" stroke-dashoffset="-60.4" stroke-linecap="butt"/>
<path d="M63.3,70.1 C61.5,68.6 59.9,67.1 58.0,65.6 C56.1,64.1 53.8,62.4 51.9,61.0 C50.0,59.6 48.4,58.3 46.6,57.2 C44.8,56.1 42.2,55.0 41.3,54.6" fill="none" stroke="#7534a0" stroke-width="1.85" stroke-dasharray="4.5 2.6" stroke-dashoffset="-201.3" stroke-linecap="butt"/>
<path d="M41.3,54.6 L47.2,54.5 L44.8,59.3 Z" fill="#7534a0"/>
<path d="M158.4,235.0 C158.4,234.5 158.3,233.6 158.5,232.0 C158.7,230.4 159.3,227.4 159.6,225.5 C159.9,223.6 160.0,222.1 160.3,220.4 C160.6,218.7 161.0,217.1 161.5,215.4 C162.0,213.7 162.9,212.0 163.4,210.3 C163.9,208.6 164.7,207.2 164.7,205.3 C164.7,203.4 163.9,201.0 163.4,198.9" fill="none" stroke="#1f4596" stroke-width="1.85" stroke-dasharray="4.5 2.6" stroke-dashoffset="-0.0" stroke-linecap="butt"/>
<path d="M163.4,198.9 C162.9,196.8 162.2,194.7 161.5,192.6 C160.8,190.5 160.3,188.8 159.4,186.5 C158.5,184.2 157.0,181.0 155.8,178.5 C154.6,176.0 153.6,173.5 152.3,171.4 C151.0,169.3 149.4,168.0 147.8,166.1 C146.2,164.2 144.6,162.0 142.5,159.9 C140.4,157.8 138.1,155.9 135.4,153.7 C132.8,151.5 129.7,149.3 126.6,146.6 C123.5,143.9 119.7,140.1 116.7,137.5 C113.7,134.9 111.3,133.3 108.6,130.8 C105.9,128.3 103.2,125.4 100.5,122.7 C97.8,120.0 95.1,117.5 92.4,114.6 C89.7,111.7 87.0,108.5 84.3,105.4 C81.6,102.4 78.8,99.2 76.2,96.3 C73.6,93.4 70.5,90.1 68.6,88.0 C66.6,85.9 65.8,85.0 64.5,83.5 C63.1,82.0 61.8,80.3 60.5,79.0 C59.2,77.7 58.2,76.8 57.0,75.5 C55.8,74.2 54.7,72.4 53.4,71.0 C52.1,69.6 50.4,68.3 49.0,67.0 C47.6,65.7 45.8,63.9 45.1,63.3" fill="none" stroke="#2a62c0" stroke-width="1.85" stroke-dasharray="4.5 2.6" stroke-dashoffset="-37.1" stroke-linecap="butt"/>
<path d="M45.1,63.3 L50.7,64.9 L47.0,68.8 Z" fill="#2a62c0"/>
<path d="M158.4,235.0 C158.6,234.7 158.9,233.9 159.5,233.0 C160.1,232.1 161.0,230.9 161.8,229.5 C162.7,228.1 163.3,226.0 164.6,224.6 C165.9,223.2 168.0,222.2 169.4,220.8 C170.8,219.4 172.2,217.9 173.2,216.0 C174.2,214.1 174.9,212.1 175.5,209.4 C176.1,206.7 176.1,203.1 176.5,199.9 C176.9,196.7 177.4,193.6 177.9,190.4 C178.4,187.2 179.6,183.8 179.5,181.0 C179.4,178.2 178.0,175.8 177.5,173.3 C177.0,170.8 177.1,168.2 176.5,166.0 C175.9,163.8 175.6,162.1 174.1,160.3 C172.6,158.5 169.6,156.7 167.3,155.0 C165.0,153.3 162.7,152.4 160.3,150.1 C158.0,147.8 155.6,144.2 153.2,141.3 C150.8,138.4 148.5,135.0 146.1,132.4 C143.7,129.8 141.2,127.5 139.0,125.5 C136.8,123.5 135.3,122.5 132.9,120.6 C130.5,118.7 127.5,115.8 124.8,114.0 C122.1,112.2 119.4,111.4 116.7,109.5 C114.0,107.6 111.0,104.9 108.6,102.4 C106.2,99.9 104.5,97.0 102.5,94.3 C100.5,91.6 98.8,88.6 96.5,86.2 C94.2,83.8 90.9,81.5 88.4,80.1 C85.9,78.7 82.5,78.1 81.3,77.7" fill="none" stroke="#cd3c93" stroke-width="1.85" stroke-dasharray="4.5 2.6" stroke-dashoffset="-0.0" stroke-linecap="butt"/>
<path d="M81.3,77.7 L87.1,76.8 L85.4,81.9 Z" fill="#cd3c93"/>
<path d="M158.4,235.0 C158.6,234.5 159.0,233.7 159.5,232.0 C160.0,230.3 160.8,227.1 161.5,224.6 C162.2,222.1 163.0,219.5 163.7,217.0 C164.4,214.5 165.0,211.9 165.6,209.4 C166.2,206.9 166.6,204.0 167.5,201.8 C168.4,199.6 169.9,198.3 171.3,196.1 C172.7,193.9 174.6,191.3 176.0,188.5 C177.4,185.7 178.9,182.0 179.8,179.0 C180.7,176.0 181.2,172.7 181.5,170.5 C181.8,168.3 181.6,168.0 181.5,166.0 C181.4,164.0 181.2,161.2 180.8,158.4 C180.4,155.6 179.5,151.8 178.9,148.9 C178.3,146.1 177.6,143.8 177.0,141.3 C176.4,138.8 175.9,136.2 175.1,133.7 C174.3,131.2 173.8,128.3 172.2,126.1 C170.6,123.9 168.0,122.3 165.6,120.4 C163.2,118.5 160.8,116.5 158.0,114.7 C155.2,113.0 151.7,111.5 148.5,109.9 C145.3,108.3 141.4,106.6 139.0,105.2 C136.6,103.8 136.0,103.0 134.0,101.5 C132.0,100.0 129.3,98.3 127.0,96.5 C124.7,94.7 122.1,92.3 120.2,90.5" fill="none" stroke="#3ca63a" stroke-width="1.85" stroke-dasharray="4.5 2.6" stroke-dashoffset="-0.0" stroke-linecap="butt"/>
<path d="M120.2,90.5 C118.3,88.7 116.9,86.9 115.6,85.6 C114.3,84.3 113.1,83.0 112.6,82.5" fill="none" stroke="#2a8a2e" stroke-width="1.85" stroke-dasharray="4.5 2.6" stroke-dashoffset="-178.3" stroke-linecap="butt"/>
<path d="M112.6,82.5 L118.2,84.4 L114.3,88.1 Z" fill="#2a8a2e"/>
<path d="M158.4,235.0 C158.7,234.7 159.1,234.1 160.0,233.0 C160.9,231.9 162.4,230.1 163.7,228.4 C164.9,226.7 165.9,224.6 167.5,222.7 C169.1,220.8 171.6,218.9 173.2,217.0 C174.8,215.1 176.1,213.5 177.0,211.3 C177.9,209.1 178.8,206.5 178.9,203.7 C179.1,200.8 178.5,197.4 177.9,194.2 C177.3,191.0 176.3,188.2 175.5,184.7 C174.7,181.2 174.0,176.9 173.2,173.3 C172.4,169.7 171.8,166.1 170.5,163.0 C169.2,159.9 167.3,157.6 165.6,154.6 C163.9,151.6 162.1,147.9 160.5,145.1 C158.9,142.2 157.8,140.0 156.1,137.5 C154.4,135.0 152.6,132.8 150.4,129.9 C148.2,127.1 145.3,123.6 142.8,120.4 C140.3,117.2 137.7,114.1 135.2,110.9 C132.7,107.7 129.5,104.4 127.6,101.4 C125.7,98.5 125.2,95.6 124.0,93.2 C122.8,90.8 121.3,89.1 120.2,87.1 C119.1,85.1 118.2,83.3 117.2,81.0 C116.2,78.7 115.0,75.7 114.1,73.4 C113.2,71.1 112.4,69.2 111.8,67.3 C111.2,65.4 110.7,63.5 110.3,62.0 C109.9,60.5 109.7,58.8 109.6,58.2" fill="none" stroke="#4cbdd0" stroke-width="1.85" stroke-dasharray="4.5 2.6" stroke-dashoffset="-0.0" stroke-linecap="butt"/>
<path d="M109.6,58.2 L113.2,62.8 L107.9,63.8 Z" fill="#4cbdd0"/>
<path d="M158.4,235.0 C158.5,234.8 158.6,234.2 159.0,233.5 C159.4,232.8 160.2,231.9 160.9,230.6 C161.6,229.3 162.7,227.2 163.4,225.5 C164.1,223.8 164.8,222.7 165.3,220.4 C165.8,218.2 166.1,214.7 166.6,212.0 C167.1,209.3 167.9,206.7 168.5,204.0 C169.1,201.3 169.2,198.6 170.0,196.0 C170.8,193.4 172.3,191.3 173.2,188.5 C174.0,185.7 174.6,182.2 175.1,179.0 C175.6,175.8 176.0,172.9 176.0,169.5 C176.0,166.1 175.3,161.5 175.1,158.4 C174.8,155.3 174.5,153.3 174.5,150.8 C174.5,148.3 175.2,146.0 175.3,143.2 C175.4,140.3 175.3,136.6 175.0,133.7 C174.7,130.8 173.9,128.3 173.5,126.0 C173.1,123.7 173.0,121.9 172.5,120.0 C172.0,118.1 171.2,116.8 170.6,114.7 C170.0,112.6 169.0,110.0 169.0,107.6 C169.0,105.2 170.4,102.6 170.6,100.5 C170.8,98.4 170.3,96.6 170.0,95.0 C169.7,93.4 169.3,91.8 168.5,91.0 C167.7,90.2 166.3,90.1 165.0,90.0 C163.7,89.9 161.9,90.6 160.5,90.4 C159.1,90.2 158.2,89.3 156.6,88.6 C154.9,87.9 153.1,87.2 150.6,86.3 C148.1,85.4 144.6,84.4 141.5,83.3 C138.4,82.2 135.1,80.8 132.3,79.5 C129.5,78.2 127.0,77.0 124.7,75.7 C122.4,74.4 120.6,73.0 118.7,71.9 C116.8,70.8 114.3,69.4 113.4,68.9" fill="none" stroke="#b48214" stroke-width="1.85" stroke-dasharray="4.5 2.6" stroke-dashoffset="-0.0" stroke-linecap="butt"/>
<path d="M113.4,68.9 L119.3,69.1 L116.6,73.8 Z" fill="#b48214"/>
<path d="M158.4,235.0 C158.2,234.5 157.8,233.4 157.5,232.0 C157.2,230.6 156.9,228.9 156.5,226.8 C156.1,224.7 155.6,221.3 155.2,219.2 C154.8,217.1 154.3,216.2 153.9,214.1 C153.5,212.0 153.0,209.0 152.7,206.5 C152.3,204.0 151.8,201.6 151.8,198.9 C151.9,196.2 152.4,193.4 153.0,190.4 C153.6,187.4 154.8,184.1 155.1,180.9 C155.4,177.7 155.4,174.4 155.1,171.4 C154.8,168.4 154.1,165.2 153.5,163.0 C152.9,160.8 152.2,159.7 151.5,158.0 C150.8,156.3 149.6,154.5 149.4,152.7 C149.2,150.9 149.8,148.9 150.4,147.0 C151.0,145.1 152.9,143.2 153.2,141.3 C153.5,139.4 153.1,137.8 152.3,135.6 C151.5,133.4 149.4,130.5 148.5,128.0 C147.6,125.5 147.2,123.2 146.6,120.4 C146.0,117.6 145.6,113.8 144.7,110.9 C143.8,108.1 142.2,105.8 140.9,103.3 C139.6,100.8 138.5,99.0 136.9,96.0 C135.3,93.0 133.2,88.8 131.6,85.6 C129.9,82.3 128.2,79.0 127.0,76.5 C125.8,74.0 125.1,72.2 124.5,70.5" fill="none" stroke="#7d9bd8" stroke-width="1.85" stroke-dasharray="4.5 2.6" stroke-dashoffset="-0.0" stroke-linecap="butt"/>
<path d="M124.5,70.5 C123.9,68.8 123.8,68.4 123.5,66.6 C123.2,64.8 122.6,61.8 122.6,59.7 C122.6,57.6 122.9,56.1 123.3,54.0 C123.7,51.9 124.5,48.4 124.7,47.3" fill="none" stroke="#26408a" stroke-width="1.85" stroke-dasharray="4.5 2.6" stroke-dashoffset="-173.6" stroke-linecap="butt"/>
<path d="M124.7,47.3 L126.3,52.9 L121.0,51.8 Z" fill="#26408a"/>
<path d="M254.3,235.0 C254.3,234.8 254.3,235.0 254.5,233.5 C254.7,232.0 254.8,228.6 255.2,226.2 C255.5,223.8 256.1,221.5 256.6,219.2 C257.1,216.9 257.5,214.6 258.0,212.3 C258.5,210.0 258.9,207.7 259.4,205.3 C259.8,202.9 260.1,200.0 260.7,197.8 C261.3,195.6 262.1,194.0 263.0,192.1 C263.9,190.2 265.3,188.1 266.4,186.4 C267.5,184.7 268.6,183.6 269.8,181.9 C271.0,180.2 272.6,178.1 273.8,176.2 C275.0,174.3 276.2,172.4 277.2,170.5 C278.1,168.6 278.8,167.1 279.5,164.8 C280.2,162.5 280.7,159.2 281.2,156.8 C281.7,154.4 281.8,153.4 282.5,150.3 C283.2,147.2 284.8,142.2 285.6,138.1 C286.4,134.0 286.8,128.9 287.5,125.6 C288.2,122.2 288.9,120.5 289.7,118.0 C290.4,115.5 291.1,112.9 292.0,110.4 C292.9,107.9 294.1,105.3 295.1,102.8 C296.1,100.3 296.9,97.9 298.1,95.2 C299.3,92.5 301.2,88.8 302.2,86.5 C303.2,84.2 303.3,82.6 303.9,81.1 C304.5,79.6 304.9,78.6 305.7,77.6 C306.4,76.6 307.8,76.2 308.4,74.9 C309.0,73.6 309.2,71.9 309.2,69.6 C309.2,67.2 308.7,63.8 308.4,60.8 C308.1,57.8 308.1,54.9 307.5,51.9 C306.9,48.9 305.8,45.7 304.8,43.0 C303.8,40.3 302.6,38.2 301.3,35.9 C300.0,33.5 297.9,31.0 296.8,28.9 C295.7,26.8 294.9,24.6 294.5,23.0 C294.1,21.4 294.2,20.7 294.5,19.0 C294.8,17.3 296.0,13.8 296.3,12.8" fill="none" stroke="#cd3c93" stroke-width="1.85" stroke-dasharray="4.5 2.6" stroke-dashoffset="-0.0" stroke-linecap="butt"/>
<path d="M254.3,235.0 C254.4,234.8 254.3,234.5 254.8,233.5 C255.3,232.5 256.4,230.7 257.5,229.0 C258.6,227.3 260.4,225.2 261.5,223.4 C262.6,221.6 263.4,220.0 264.2,217.9 C265.0,215.8 265.7,213.7 266.3,210.9 C266.9,208.1 267.4,203.7 267.7,201.1 C268.0,198.5 268.1,197.7 268.1,195.6 C268.1,193.5 267.6,190.8 267.5,188.7 C267.4,186.6 267.3,185.1 267.5,183.0 C267.7,180.9 268.1,178.3 268.7,176.2 C269.3,174.1 270.1,172.4 271.0,170.5" fill="none" stroke="#9062bc" stroke-width="1.85" stroke-dasharray="4.5 2.6" stroke-dashoffset="-0.0" stroke-linecap="butt"/>
<path d="M271.0,170.5 C271.9,168.6 273.3,166.7 274.4,164.8 C275.5,162.9 276.7,161.4 277.8,159.1 C278.9,156.8 280.1,153.9 281.2,151.1 C282.3,148.3 283.4,145.0 284.6,142.2 C285.8,139.3 287.2,136.3 288.6,134.0 C290.0,131.7 291.5,130.2 292.8,128.6 C294.1,126.9 295.1,126.1 296.6,124.1 C298.1,122.1 300.6,118.8 301.9,116.5 C303.2,114.2 303.4,112.7 304.2,110.4 C305.0,108.1 305.9,105.1 306.5,102.8 C307.1,100.5 307.6,99.1 308.0,96.7 C308.4,94.3 308.8,90.7 309.2,88.2" fill="none" stroke="#9460c2" stroke-width="1.85" stroke-dasharray="4.5 2.6" stroke-dashoffset="-68.3" stroke-linecap="butt"/>
<path d="M309.2,88.2 C309.6,85.8 309.8,84.2 310.1,82.0 C310.4,79.8 310.6,77.3 311.0,74.9 C311.4,72.5 312.2,70.2 312.8,67.8 C313.4,65.4 313.9,63.1 314.6,60.8 C315.3,58.4 316.3,56.1 317.2,53.7 C318.1,51.3 319.0,49.0 319.9,46.6 C320.8,44.2 321.8,41.8 322.5,39.5 C323.2,37.2 324.0,33.9 324.3,32.8" fill="none" stroke="#7534a0" stroke-width="1.85" stroke-dasharray="4.5 2.6" stroke-dashoffset="-160.3" stroke-linecap="butt"/>
<path d="M324.3,32.8 L325.6,38.5 L320.3,37.1 Z" fill="#7534a0"/>
<path d="M254.3,235.0 C254.5,234.8 254.8,234.8 255.5,234.0 C256.2,233.2 257.5,232.2 258.7,230.4 C259.9,228.6 261.5,226.0 262.9,223.4 C264.3,220.8 265.6,217.9 267.0,215.1 C268.4,212.3 269.8,209.5 271.2,206.7 C272.6,203.9 274.3,201.2 275.4,198.4 C276.5,195.6 277.0,192.3 277.8,189.9 C278.6,187.5 279.4,186.1 280.1,184.2 C280.9,182.3 281.6,180.4 282.3,178.5 C283.1,176.6 283.8,174.7 284.6,172.8 C285.4,170.9 285.9,169.0 286.9,167.1 C287.8,165.2 289.0,163.3 290.3,161.4 C291.6,159.5 293.5,157.6 294.9,155.7 C296.3,153.8 297.7,151.3 298.8,150.0 C299.9,148.7 300.1,148.9 301.3,147.7 C302.6,146.5 304.9,144.1 306.3,142.7 C307.7,141.2 308.8,140.4 309.5,139.0 C310.2,137.6 310.2,135.7 310.5,134.0 C310.8,132.3 310.8,131.0 311.0,128.6 C311.2,126.2 311.6,122.5 311.8,119.5 C312.0,116.5 311.9,113.2 312.2,110.4 C312.4,107.6 312.9,105.8 313.3,102.8 C313.7,99.8 314.5,94.8 314.8,92.2 C315.1,89.6 315.0,89.3 315.4,87.3 C315.8,85.3 316.6,82.6 317.2,80.3 C317.8,78.0 318.4,75.6 319.0,73.2 C319.6,70.8 320.3,68.2 320.8,66.1 C321.3,64.0 322.0,61.3 322.2,60.4" fill="none" stroke="#4cbdd0" stroke-width="1.85" stroke-dasharray="4.5 2.6" stroke-dashoffset="-0.0" stroke-linecap="butt"/>
<path d="M322.2,60.4 L323.6,66.1 L318.3,64.8 Z" fill="#4cbdd0"/>
<path d="M254.3,235.0 C254.3,234.8 254.1,235.2 254.5,234.0 C254.9,232.8 255.8,230.2 256.5,228.0 C257.2,225.8 258.1,223.5 259.0,221.0 C259.9,218.5 260.9,215.7 262.0,213.0 C263.1,210.3 264.2,207.6 265.3,204.9 C266.4,202.2 267.4,198.7 268.4,196.8 C269.3,194.9 270.1,194.7 271.0,193.3 C271.9,192.0 272.9,190.4 273.8,188.7 C274.7,187.0 275.4,184.7 276.1,183.0 C276.9,181.3 277.7,180.2 278.3,178.5 C278.9,176.8 278.9,174.9 279.5,172.8 C280.1,170.7 280.9,168.0 281.8,165.9 C282.7,163.8 283.5,163.0 284.6,160.4 C285.7,157.8 287.2,153.7 288.6,150.3 C290.0,146.9 291.9,143.5 292.7,140.1 C293.5,136.7 293.1,132.8 293.7,130.0 C294.3,127.2 295.0,125.5 296.1,123.4 C297.2,121.3 299.1,119.1 300.2,117.3 C301.3,115.5 301.9,114.2 303.0,112.5 C304.1,110.8 305.4,109.4 306.5,107.3 C307.6,105.2 308.5,102.0 309.5,99.7 C310.5,97.4 311.6,95.5 312.5,93.7 C313.4,91.9 314.0,90.8 314.6,89.1" fill="none" stroke="#eedc6a" stroke-width="1.85" stroke-dasharray="4.5 2.6" stroke-dashoffset="-0.0" stroke-linecap="butt"/>
<path d="M314.6,89.1 C315.2,87.4 315.6,85.6 316.3,83.8 C317.0,82.0 318.1,80.4 319.0,78.5 C319.9,76.6 320.9,74.1 321.6,72.3 C322.3,70.5 322.8,69.4 323.4,67.8 C324.0,66.2 324.9,63.4 325.2,62.5" fill="none" stroke="#d9aa34" stroke-width="1.85" stroke-dasharray="4.5 2.6" stroke-dashoffset="-159.2" stroke-linecap="butt"/>
<path d="M325.2,62.5 L326.1,68.3 L321.0,66.6 Z" fill="#d9aa34"/>
<path d="M254.3,235.0 C254.4,234.8 254.3,235.7 255.0,234.0 C255.7,232.3 257.3,228.0 258.5,225.0 C259.7,222.0 260.7,219.0 262.0,216.0 C263.3,213.0 264.8,210.4 266.3,207.0 C267.8,203.6 269.8,198.4 270.9,195.6 C272.0,192.8 272.3,191.6 273.2,189.9 C274.1,188.2 275.1,187.0 276.1,185.3 C277.2,183.6 278.6,181.5 279.5,179.6 C280.4,177.7 281.1,176.0 281.8,173.9 C282.5,171.8 282.9,169.2 283.5,167.1 C284.1,165.0 284.4,163.3 285.2,161.4 C285.9,159.5 286.9,157.5 288.0,155.7 C289.1,153.8 290.2,152.9 291.6,150.3 C293.1,147.7 295.2,143.5 296.7,140.1 C298.2,136.7 299.7,132.9 300.8,130.0 C301.9,127.1 302.3,124.5 303.4,122.5 C304.5,120.5 306.0,119.5 307.2,118.0 C308.4,116.5 309.4,115.2 310.3,113.4 C311.2,111.6 311.9,109.3 312.5,107.3 C313.1,105.3 313.3,103.3 314.1,101.3 C314.9,99.3 316.1,97.0 317.1,95.2 C318.1,93.4 319.0,92.0 320.1,90.6 C321.2,89.2 322.7,87.9 323.9,86.8 C325.1,85.7 326.8,84.3 327.4,83.8" fill="none" stroke="#2a62c0" stroke-width="1.85" stroke-dasharray="4.5 2.6" stroke-dashoffset="-0.0" stroke-linecap="butt"/>
<path d="M327.4,83.8 L325.2,89.2 L321.7,85.1 Z" fill="#2a62c0"/>
<path d="M254.3,235.0 C254.4,234.8 254.4,235.0 255.0,233.5 C255.6,232.0 257.0,228.8 258.0,226.0 C259.0,223.2 260.0,220.2 261.0,217.0 C262.0,213.8 263.7,210.6 264.0,207.0 C264.3,203.4 263.4,199.4 263.0,195.6 C262.6,191.8 261.8,187.8 261.8,184.2 C261.8,180.6 262.5,177.3 263.0,173.9 C263.5,170.5 264.1,166.7 265.0,164.0 C265.9,161.3 267.5,160.3 268.5,158.0 C269.5,155.7 270.1,152.8 271.0,150.0 C271.9,147.2 272.7,143.7 274.0,141.0 C275.3,138.3 277.7,136.0 279.0,134.0 C280.3,132.0 280.8,130.7 282.0,129.0 C283.2,127.3 284.5,125.4 286.0,124.0" fill="none" stroke="#7d9bd8" stroke-width="1.85" stroke-dasharray="4.5 2.6" stroke-dashoffset="-0.0" stroke-linecap="butt"/>
<path d="M286.0,124.0 C287.5,122.6 289.5,121.8 291.0,120.5 C292.5,119.2 293.9,117.7 295.1,116.3 C296.3,114.9 297.2,113.6 298.2,112.3 C299.2,111.0 299.8,110.1 301.2,108.7 C302.6,107.3 305.4,104.5 306.3,103.7" fill="none" stroke="#26408a" stroke-width="1.85" stroke-dasharray="4.5 2.6" stroke-dashoffset="-118.8" stroke-linecap="butt"/>
<path d="M306.3,103.7 L304.5,109.3 L300.7,105.4 Z" fill="#26408a"/>
<path d="M254.3,235.0 C254.2,234.8 254.3,234.5 254.0,233.5 C253.7,232.5 253.0,230.4 252.4,229.0 C251.8,227.6 250.9,226.7 250.3,224.8 C249.7,223.0 249.2,220.5 248.9,217.9 C248.6,215.3 248.7,212.3 248.2,209.5 C247.7,206.7 246.7,203.3 246.1,201.1 C245.5,198.8 244.7,197.4 244.5,196.0 C244.3,194.6 244.3,194.7 245.1,192.8 C245.9,190.9 247.6,187.1 249.1,184.7 C250.6,182.3 252.5,180.6 254.2,178.6" fill="none" stroke="#c8960a" stroke-width="1.85" stroke-dasharray="4.5 2.6" stroke-dashoffset="-0.0" stroke-linecap="butt"/>
<path d="M254.2,178.6 C255.9,176.6 257.5,174.5 259.2,172.5 C260.9,170.5 262.4,169.2 264.3,166.5 C266.2,163.8 268.2,159.9 270.4,156.3 C272.6,152.8 275.7,148.3 277.5,145.2 C279.3,142.1 280.4,140.0 281.4,137.7" fill="none" stroke="#f0b41a" stroke-width="1.85" stroke-dasharray="4.5 2.6" stroke-dashoffset="-60.8" stroke-linecap="butt"/>
<path d="M281.4,137.7 C282.4,135.4 282.8,133.4 283.7,131.6 C284.6,129.8 285.7,128.6 286.7,127.1 C287.7,125.6 288.4,123.8 289.7,122.5 C291.0,121.2 292.8,120.6 294.3,119.5 C295.8,118.4 297.5,117.1 298.9,115.7 C300.3,114.3 301.7,112.4 302.7,111.0 C303.7,109.6 304.6,108.1 305.0,107.5" fill="none" stroke="#b48214" stroke-width="1.85" stroke-dasharray="4.5 2.6" stroke-dashoffset="-110.1" stroke-linecap="butt"/>
<path d="M305.0,107.5 L304.4,113.3 L299.9,110.4 Z" fill="#b48214"/>
<path d="M254.3,235.0 C254.4,234.8 254.6,235.0 255.0,233.5 C255.4,232.0 256.2,228.6 257.0,226.0 C257.8,223.4 258.9,220.8 260.0,218.0 C261.1,215.2 262.2,211.5 263.3,209.0 C264.4,206.5 265.0,205.3 266.3,202.9 C267.6,200.5 269.6,196.4 271.0,194.4 C272.4,192.4 273.3,192.3 274.4,191.0 C275.5,189.7 276.6,187.7 277.8,186.4 C279.0,185.1 280.5,184.1 281.8,183.0 C283.1,181.9 284.6,180.7 285.8,179.6 C287.0,178.5 287.9,177.3 289.2,176.2 C290.5,175.1 292.2,173.9 293.7,172.8 C295.2,171.7 296.6,170.7 298.3,169.4 C300.0,168.1 302.0,166.2 303.8,164.8 C305.6,163.4 307.2,162.1 308.9,161.0" fill="none" stroke="#3ca63a" stroke-width="1.85" stroke-dasharray="4.5 2.6" stroke-dashoffset="-0.0" stroke-linecap="butt"/>
<path d="M308.9,161.0 C310.6,159.9 312.0,159.2 313.9,158.5 C315.8,157.8 318.2,157.2 320.3,156.6 C322.4,156.0 324.5,155.3 326.6,154.7 C328.7,154.1 330.8,153.6 332.9,152.8 C335.0,152.0 338.1,150.5 339.2,150.0" fill="none" stroke="#2a8a2e" stroke-width="1.85" stroke-dasharray="4.5 2.6" stroke-dashoffset="-94.8" stroke-linecap="butt"/>
<path d="M339.2,150.0 L335.5,154.6 L333.4,149.6 Z" fill="#2a8a2e"/>
<path d="M167.8,382.3 C167.8,382.1 167.9,382.3 167.5,381.0 C167.1,379.7 166.3,376.7 165.2,374.4 C164.1,372.1 162.4,369.9 160.8,367.3 C159.2,364.7 157.5,361.4 155.4,358.5 C153.3,355.6 150.8,352.6 148.4,349.6 C146.1,346.7 143.7,343.8 141.3,340.8 C138.9,337.9 136.6,334.9 134.2,331.9 C131.8,328.9 129.7,325.9 127.1,323.0 C124.5,320.1 121.5,317.2 118.7,314.6 C116.0,312.0 113.3,309.9 110.6,307.5 C107.9,305.1 105.2,302.8 102.5,300.4 C99.8,298.0 97.1,295.7 94.4,293.3 C91.7,290.9 88.8,288.6 86.3,286.2 C83.8,283.8 81.5,281.4 79.2,279.1 C76.9,276.8 73.4,273.5 72.2,272.4" fill="none" stroke="#2456b4" stroke-width="1.45" stroke-dasharray="3.4 1.9" stroke-dashoffset="-0.0" stroke-linecap="butt"/>
<path d="M72.2,272.4 L77.4,273.9 L73.9,277.5 Z" fill="#2456b4"/>
<path d="M167.8,382.3 C167.8,382.1 168.4,382.0 167.5,381.0 C166.6,380.0 164.5,378.2 162.5,376.2 C160.5,374.2 157.8,371.8 155.4,369.1 C153.1,366.5 150.8,363.2 148.4,360.3 C146.1,357.4 143.7,354.1 141.3,351.4 C138.9,348.7 136.6,346.7 134.2,344.3 C131.8,341.9 129.3,339.4 127.1,337.2 C124.9,334.9 122.7,332.9 120.8,330.8 C118.9,328.7 117.4,326.7 115.7,324.7 C114.0,322.7 112.4,320.6 110.6,318.6 C108.8,316.6 106.6,314.5 104.6,312.5 C102.6,310.5 100.5,308.5 98.5,306.5 C96.5,304.5 93.4,301.4 92.4,300.4" fill="none" stroke="#4cbdd0" stroke-width="1.45" stroke-dasharray="3.4 1.9" stroke-dashoffset="-0.0" stroke-linecap="butt"/>
<path d="M92.4,300.4 L97.6,302.0 L94.0,305.6 Z" fill="#4cbdd0"/>
<path d="M167.8,382.3 C167.8,382.1 168.1,382.3 167.8,381.0 C167.5,379.7 167.0,377.0 166.1,374.4 C165.2,371.8 163.8,368.6 162.5,365.6 C161.2,362.7 159.6,359.7 158.1,356.7 C156.6,353.7 155.3,350.8 153.7,347.8 C152.1,344.9 150.2,341.6 148.4,339.0 C146.6,336.4 144.8,334.0 143.0,331.9 C141.2,329.8 139.5,328.4 137.7,326.6 C135.9,324.8 133.3,322.2 132.4,321.3" fill="none" stroke="#cd3c93" stroke-width="1.45" stroke-dasharray="3.4 1.9" stroke-dashoffset="-0.0" stroke-linecap="butt"/>
<path d="M132.4,321.3 L137.6,322.9 L134.0,326.5 Z" fill="#cd3c93"/>
<path d="M167.8,382.3 C167.7,382.1 167.9,382.6 167.0,381.0 C166.1,379.4 164.0,375.3 162.5,372.7 C161.0,370.1 159.6,367.7 158.1,365.6 C156.6,363.5 155.0,361.8 153.7,360.3 C152.4,358.8 151.6,357.8 150.1,356.7 C148.6,355.6 146.9,354.9 144.8,354.0 C142.7,353.1 140.3,352.3 137.7,351.4 C135.0,350.5 131.6,349.6 128.9,348.7 C126.2,347.8 123.8,346.7 121.6,345.8 C119.4,344.9 117.6,344.2 115.6,343.5" fill="none" stroke="#f0b020" stroke-width="1.45" stroke-dasharray="3.4 1.9" stroke-dashoffset="-0.0" stroke-linecap="butt"/>
<path d="M115.6,343.5 C113.6,342.8 111.5,342.1 109.5,341.3 C107.5,340.6 105.6,339.8 103.4,339.0 C101.2,338.2 97.7,337.1 96.6,336.7" fill="none" stroke="#c0901c" stroke-width="1.45" stroke-dasharray="3.4 1.9" stroke-dashoffset="-68.3" stroke-linecap="butt"/>
<path d="M96.6,336.7 L101.9,335.9 L100.3,340.6 Z" fill="#c0901c"/>
<path d="M167.8,382.3 C167.8,382.1 168.4,381.7 167.5,381.0 C166.6,380.3 164.5,379.1 162.5,378.0 C160.5,376.9 157.8,375.4 155.4,374.4 C153.1,373.4 150.8,372.5 148.4,371.8 C146.1,371.1 143.7,370.9 141.3,370.0 C138.9,369.1 136.5,367.6 134.2,366.5 C131.9,365.4 129.8,364.2 127.7,363.3 C125.6,362.4 123.6,361.8 121.6,361.0 C119.6,360.2 117.6,359.3 115.6,358.7 C113.6,358.1 111.7,357.8 109.5,357.2 C107.3,356.6 105.2,355.8 102.7,355.2 C100.2,354.6 95.7,353.9 94.3,353.7" fill="none" stroke="#7d9bd8" stroke-width="1.45" stroke-dasharray="5.5 4" stroke-dashoffset="-0.0" stroke-linecap="butt"/>
<path d="M94.3,353.7 L99.5,352.1 L98.6,357.0 Z" fill="#2f4a8c"/>
<path d="M167.8,382.3 C167.7,382.1 168.2,381.9 167.0,381.0 C165.8,380.1 163.0,378.2 160.8,377.1 C158.6,376.0 156.1,375.1 153.7,374.4 C151.3,373.7 149.0,373.1 146.6,372.7 C144.2,372.3 142.2,372.2 139.5,371.8 C136.8,371.4 133.3,370.5 130.6,370.0 C127.9,369.5 125.7,369.4 123.2,368.9 C120.7,368.4 118.1,367.7 115.6,367.1 C113.1,366.6 110.5,366.1 108.0,365.6 C105.5,365.2 102.9,364.8 100.4,364.4 C97.9,364.0 95.3,363.6 92.8,363.3" fill="none" stroke="#3ca63a" stroke-width="1.45" stroke-dasharray="3.4 1.9" stroke-dashoffset="-0.0" stroke-linecap="butt"/>
<path d="M92.8,363.3 C90.3,363.0 87.6,362.9 85.2,362.5 C82.8,362.1 79.5,361.2 78.4,361.0" fill="none" stroke="#2a8a2e" stroke-width="1.45" stroke-dasharray="3.4 1.9" stroke-dashoffset="-78.5" stroke-linecap="butt"/>
<path d="M78.4,361.0 L83.6,359.6 L82.5,364.5 Z" fill="#2a8a2e"/>
<path d="M167.8,382.3 C167.8,382.1 168.1,381.4 167.5,381.0 C166.9,380.6 166.0,380.2 164.3,379.7 C162.6,379.2 159.8,378.6 157.2,378.0 C154.5,377.4 151.3,376.8 148.4,376.2 C145.5,375.6 142.5,375.1 139.5,374.4 C136.5,373.7 133.1,372.4 130.6,371.8 C128.1,371.2 126.7,371.3 124.7,370.9 C122.7,370.5 120.6,369.8 118.6,369.4" fill="none" stroke="#9062bc" stroke-width="1.45" stroke-dasharray="3.4 1.9" stroke-dashoffset="-0.0" stroke-linecap="butt"/>
<path d="M118.6,369.4 C116.6,369.0 114.5,368.6 112.5,368.3 C110.5,368.0 107.5,367.5 106.5,367.4" fill="none" stroke="#7534a0" stroke-width="1.45" stroke-dasharray="3.4 1.9" stroke-dashoffset="-51.8" stroke-linecap="butt"/>
<path d="M106.5,367.4 L111.6,365.6 L110.9,370.6 Z" fill="#7534a0"/>
<path d="M260.8,382.3 C260.8,382.2 261.0,381.8 260.7,381.5 C260.4,381.2 259.8,381.1 258.9,380.3 C258.0,379.5 256.6,378.2 255.4,376.7 C254.2,375.2 252.8,373.5 251.8,371.4 C250.8,369.3 249.9,367.0 249.2,364.3 C248.5,361.6 248.0,358.0 247.8,355.4 C247.7,352.8 247.9,350.8 248.3,348.4 C248.7,346.0 249.2,343.7 250.1,341.3 C251.0,338.9 252.3,336.6 253.6,334.2 C254.9,331.8 256.5,329.2 258.0,327.1 C259.5,325.0 260.7,323.9 262.5,321.8 C264.3,319.7 266.6,316.8 269.0,314.4 C271.4,312.0 274.5,309.5 277.0,307.6 C279.5,305.7 281.5,304.6 284.0,303.0 C286.5,301.4 289.3,299.6 292.0,298.0 C294.7,296.4 297.1,294.6 300.0,293.5 C302.9,292.4 306.1,292.0 309.1,291.5 C312.1,291.0 315.2,290.6 318.2,290.3 C321.2,290.0 324.2,289.7 327.3,289.6 C330.4,289.5 334.2,289.5 336.5,289.6 C338.8,289.7 340.2,289.9 341.0,290.0" fill="none" stroke="#4d7cc4" stroke-width="1.5" stroke-dasharray="5 3" stroke-dashoffset="-0.0" stroke-linecap="butt"/>
<path d="M341.0,290.0 L336.2,292.0 L336.6,287.2 Z" fill="#283c7c"/>
<path d="M260.8,382.3 C260.8,382.1 260.6,381.9 260.7,381.0 C260.8,380.1 261.0,378.6 261.6,376.7 C262.2,374.8 263.3,372.0 264.2,369.6 C265.1,367.2 265.9,364.9 266.9,362.5 C267.9,360.1 268.9,357.8 270.4,355.4 C271.9,353.0 274.0,350.8 275.8,348.4 C277.6,346.0 279.0,343.7 281.1,341.3 C283.2,338.9 285.7,336.6 288.2,334.2 C290.7,331.8 293.5,329.3 296.1,327.1 C298.8,324.9 301.6,323.0 304.1,320.9 C306.7,318.8 309.0,316.0 311.4,314.4 C313.8,312.8 315.9,312.3 318.2,311.0 C320.5,309.7 322.8,307.8 325.1,306.5 C327.4,305.2 329.6,304.3 331.9,303.0 C334.2,301.7 336.4,300.0 338.7,298.5 C341.0,297.0 343.3,295.4 345.6,293.9 C347.9,292.4 350.1,290.9 352.4,289.4 C354.7,287.9 356.9,286.1 359.2,284.8 C361.5,283.5 363.9,282.3 366.1,281.4 C368.3,280.5 371.4,279.9 372.5,279.6" fill="none" stroke="#cd3c93" stroke-width="1.35" stroke-dasharray="3.2 1.8" stroke-dashoffset="-0.0" stroke-linecap="butt"/>
<path d="M372.5,279.6 L368.7,283.2 L367.4,278.5 Z" fill="#cd3c93"/>
<path d="M260.8,382.3 C260.8,382.1 260.7,381.6 260.7,381.0 C260.7,380.4 260.4,380.1 260.7,378.5 C261.0,376.9 261.8,373.8 262.5,371.4 C263.2,369.0 263.9,366.7 265.1,364.3 C266.3,361.9 268.0,359.3 269.6,357.2 C271.2,355.1 273.0,353.8 274.9,351.9 C276.8,350.0 278.9,347.8 281.1,345.7 C283.3,343.6 285.6,341.7 288.2,339.5" fill="none" stroke="#c8941e" stroke-width="1.35" stroke-dasharray="3.2 1.8" stroke-dashoffset="-0.0" stroke-linecap="butt"/>
<path d="M288.2,339.5 C290.8,337.3 294.7,334.3 297.0,332.4 C299.3,330.5 300.4,329.5 302.0,328.0 C303.6,326.5 304.9,325.2 306.8,323.5 C308.8,321.8 311.4,319.5 313.7,317.8 C316.0,316.1 318.2,314.6 320.5,313.3 C322.8,312.0 325.1,311.0 327.3,309.9 C329.5,308.8 332.6,307.1 333.7,306.5" fill="none" stroke="#e2a820" stroke-width="1.35" stroke-dasharray="3.2 1.8" stroke-dashoffset="-52.8" stroke-linecap="butt"/>
<path d="M333.7,306.5 L330.8,310.8 L328.5,306.5 Z" fill="#e2a820"/>
<path d="M260.8,382.3 C260.8,382.1 260.6,381.5 261.0,381.0 C261.4,380.5 262.1,380.4 263.4,379.4 C264.7,378.4 266.6,376.5 268.7,374.9 C270.8,373.3 273.4,371.7 275.8,369.6 C278.2,367.5 280.5,364.9 282.8,362.5 C285.1,360.1 287.5,357.8 289.9,355.4 C292.3,353.0 294.6,350.8 297.0,348.4 C299.4,346.0 302.3,343.4 304.1,341.3 C305.9,339.2 306.4,337.9 308.0,336.1 C309.6,334.3 311.8,332.3 313.7,330.4 C315.6,328.5 317.6,326.6 319.4,324.7 C321.2,322.8 323.7,319.9 324.6,319.0" fill="none" stroke="#9a5cc8" stroke-width="1.2" stroke-dasharray="2.6 1.6" stroke-dashoffset="-0.0" stroke-linecap="butt"/>
<path d="M324.6,319.0 L323.3,323.8 L319.9,320.7 Z" fill="#9a5cc8"/>
<path d="M260.8,382.3 C260.8,382.1 260.9,381.5 261.0,381.0 C261.1,380.5 260.9,380.7 261.6,379.4 C262.3,378.1 263.9,375.1 265.1,373.2 C266.3,371.3 267.4,369.4 268.7,367.8 C270.0,366.2 271.3,364.4 273.1,363.4 C274.9,362.4 276.8,362.3 279.3,361.6 C281.8,360.9 285.4,360.0 288.2,359.0 C291.0,358.0 293.5,356.4 296.1,355.4 C298.8,354.4 301.9,353.8 304.1,352.8 C306.3,351.8 307.1,350.4 309.1,349.3 C311.1,348.2 313.6,347.2 315.9,346.3 C318.2,345.4 320.5,344.6 322.8,344.0" fill="none" stroke="#3ca63a" stroke-width="1.35" stroke-dasharray="3.2 1.8" stroke-dashoffset="-0.0" stroke-linecap="butt"/>
<path d="M322.8,344.0 C325.1,343.4 327.3,343.1 329.6,342.5 C331.9,341.9 334.4,341.1 336.5,340.6 C338.6,340.1 341.2,339.7 342.2,339.5" fill="none" stroke="#2a8a2e" stroke-width="1.35" stroke-dasharray="3.2 1.8" stroke-dashoffset="-76.6" stroke-linecap="butt"/>
<path d="M342.2,339.5 L338.1,342.7 L337.2,338.0 Z" fill="#2a8a2e"/>
<path d="M260.8,382.3 C260.8,382.1 260.6,382.1 261.0,381.0 C261.4,379.9 262.5,377.8 263.5,376.0 C264.5,374.2 265.6,371.8 267.0,370.0 C268.4,368.2 270.2,366.2 272.0,365.0 C273.8,363.8 275.8,363.3 278.0,362.5 C280.2,361.7 282.7,360.9 285.0,360.0 C287.3,359.1 289.5,358.2 292.0,357.0 C294.5,355.8 297.0,353.9 300.0,352.5" fill="none" stroke="#f2d060" stroke-width="1.35" stroke-dasharray="3.2 1.8" stroke-dashoffset="-0.0" stroke-linecap="butt"/>
<path d="M300.0,352.5 C303.0,351.1 307.0,349.6 310.0,348.5 C313.0,347.4 315.7,346.5 318.0,346.0 C320.3,345.5 322.1,345.5 324.0,345.5 C325.9,345.5 328.7,345.8 329.6,345.9" fill="none" stroke="#e8a45c" stroke-width="1.35" stroke-dasharray="3.2 1.8" stroke-dashoffset="-51.7" stroke-linecap="butt"/>
<path d="M329.6,345.9 L324.8,348.0 L325.2,343.2 Z" fill="#e8a45c"/>
<path d="M103.6,474.5 C103.4,473.9 102.8,472.8 102.5,471.2 C102.2,469.6 102.0,466.9 102.0,464.7 C102.0,462.5 102.5,460.3 102.8,458.1 C103.1,455.9 103.6,453.4 103.6,451.5 C103.6,449.6 103.5,448.0 102.8,446.6 C102.1,445.2 100.2,444.4 99.5,443.3 C98.8,442.2 99.4,440.4 98.7,440.0 C98.0,439.6 96.5,440.4 95.4,440.8 C94.3,441.2 93.3,442.5 92.1,442.4 C90.9,442.3 89.8,440.9 88.0,440.0 C86.2,439.1 83.6,437.8 81.4,436.7 C79.2,435.6 76.7,434.2 74.8,433.4 C72.9,432.6 70.6,432.9 69.9,431.7 C69.2,430.5 70.7,427.7 70.9,426.0 C71.2,424.3 71.2,422.8 71.4,421.5 C71.6,420.2 73.0,418.9 72.3,418.2 C71.6,417.5 67.9,417.4 67.0,417.2" fill="none" stroke="#c8940e" stroke-width="1.85" stroke-dasharray="4.5 2.6" stroke-dashoffset="-0.0" stroke-linecap="butt"/>
<path d="M67.0,417.2 L72.8,415.6 L71.8,420.8 Z" fill="#c8940e"/>
<path d="M97.0,440.0 C96.6,440.3 93.8,442.8 92.9,443.3 C92.0,443.8 89.2,444.7 88.0,444.9 C86.8,445.1 82.9,445.6 81.4,445.7 C79.9,445.8 74.7,445.8 73.2,445.7 C71.7,445.6 67.9,445.2 66.6,444.9 C65.3,444.6 61.5,443.2 60.3,443.0 C59.1,442.8 55.3,441.8 54.4,442.5 C53.5,443.2 52.1,448.4 51.5,450.0 C50.9,451.6 48.6,456.4 48.0,458.0 C47.4,459.6 45.6,464.2 45.0,466.0 C44.4,467.8 41.8,474.4 41.8,475.6 C41.8,476.9 44.0,478.1 44.5,478.5 C45.0,478.9 46.1,478.9 46.6,479.3 C47.1,479.8 48.7,482.1 49.2,483.0 C49.8,483.9 51.5,487.2 52.1,488.1 C52.7,489.1 54.4,491.7 55.0,492.5 C55.6,493.3 57.2,495.6 57.8,496.1 C58.4,496.6 60.1,497.4 61.0,497.5 C61.9,497.6 65.0,497.6 66.3,497.6 C67.6,497.6 73.0,497.1 74.5,497.1 C76.0,497.1 80.3,497.5 81.6,497.4 C82.9,497.3 86.7,496.6 87.8,495.8 C88.9,495.0 91.9,490.2 92.7,489.0 C93.5,487.8 95.6,484.9 96.0,484.0 C96.4,483.1 96.3,481.5 96.7,480.5 C97.1,479.5 99.6,475.6 99.7,474.4" fill="none" stroke="#cc9a18" stroke-width="1.85" stroke-dasharray="4.5 2.6" stroke-dashoffset="-0.0" stroke-linecap="butt"/>
<path d="M99.7,474.4 C99.8,473.2 98.3,469.5 97.7,468.4 C97.1,467.3 94.6,464.1 93.7,463.3 C92.8,462.5 89.7,460.7 88.6,460.3 C87.5,459.9 83.8,459.0 82.5,459.2" fill="none" stroke="#bb8520" stroke-width="1.85" stroke-dasharray="4.5 2.6" stroke-dashoffset="-162.0" stroke-linecap="butt"/>
<path d="M82.5,459.2 C81.2,459.4 76.4,461.4 75.4,462.3 C74.4,463.2 72.6,467.3 72.4,468.4 C72.2,469.5 73.2,472.2 73.4,473.4 C73.6,474.6 74.5,479.2 74.4,480.5 C74.3,481.8 73.0,485.4 72.4,486.6" fill="none" stroke="#cfa035" stroke-width="1.85" stroke-dasharray="4.5 2.6" stroke-dashoffset="-187.0" stroke-linecap="butt"/>
<path d="M72.4,486.6 C71.8,487.8 69.0,491.6 68.4,492.7 C67.8,493.8 66.8,497.1 66.5,498.0 C66.2,498.9 65.6,501.3 65.6,502.0 C65.6,502.7 66.1,504.2 66.5,505.1 C66.9,506.0 68.7,510.0 69.2,511.3 C69.7,512.6 71.4,517.1 71.8,518.4 C72.2,519.7 73.0,523.5 73.6,524.6 C74.2,525.7 76.9,528.1 78.0,529.0" fill="none" stroke="#c4901e" stroke-width="1.85" stroke-dasharray="4.5 2.6" stroke-dashoffset="-220.4" stroke-linecap="butt"/>
<path d="M78.0,529.0 C79.1,529.9 83.0,533.0 84.2,533.4 C85.4,533.8 89.5,532.1 90.4,532.5 C91.3,532.9 92.5,536.4 93.1,537.0 C93.7,537.6 95.8,538.7 96.6,538.7 C97.4,538.7 100.2,537.4 101.1,537.0 C102.0,536.6 104.6,534.3 105.5,534.3 C106.4,534.3 108.9,536.6 109.9,537.0 C110.9,537.4 114.3,537.9 115.3,537.8 C116.3,537.7 118.9,536.4 119.7,536.1 C120.5,535.8 122.1,534.7 123.1,534.4 C124.0,534.1 128.0,533.8 129.2,533.4 C130.4,533.0 134.1,530.5 135.3,530.3 C136.5,530.1 140.2,531.1 141.3,531.3" fill="none" stroke="#d4a42a" stroke-width="1.85" stroke-dasharray="4.5 2.6" stroke-dashoffset="-267.7" stroke-linecap="butt"/>
<path d="M141.3,531.3 C142.4,531.5 145.4,531.9 146.4,532.3 C147.4,532.7 150.4,535.5 151.5,535.4 C152.6,535.3 156.3,531.8 157.5,531.3 C158.7,530.8 162.6,530.7 163.6,530.3 C164.6,529.9 167.0,528.0 167.7,527.3 C168.4,526.6 170.1,523.4 170.7,523.2 C171.3,523.0 173.1,525.0 173.7,525.3 C174.3,525.6 176.1,526.4 176.8,526.3 C177.5,526.2 180.6,524.2 181.0,524.0" fill="none" stroke="#dcb83c" stroke-width="1.85" stroke-dasharray="4.5 2.6" stroke-dashoffset="-339.2" stroke-linecap="butt"/>
<path d="M181.0,524.0 L177.7,528.9 L175.1,524.1 Z" fill="#dcb83c"/>
<path d="M103.4,475.5 C103.3,474.7 102.5,470.2 102.2,468.7 C101.9,467.2 101.8,464.3 101.1,463.0 C100.4,461.7 97.6,458.2 96.5,457.3 C95.4,456.4 92.9,455.8 92.0,455.1 C91.1,454.4 89.4,451.7 88.5,451.6 C87.6,451.5 85.4,453.7 84.5,454.0 C83.6,454.3 81.5,453.8 80.6,453.9 C79.7,454.0 77.2,454.9 76.5,454.5 C75.8,454.1 75.4,450.7 74.9,450.5 C74.4,450.3 73.2,452.2 72.6,452.8 C72.0,453.4 70.2,455.2 69.5,456.0 C68.8,456.8 67.5,458.6 66.9,459.6 C66.3,460.6 64.6,463.0 64.6,464.2 C64.6,465.4 66.9,468.6 66.9,469.9 C66.9,471.2 64.7,474.3 64.6,475.6 C64.5,476.9 65.3,480.0 65.8,481.3 C66.3,482.6 68.3,485.7 69.2,487.0 C70.1,488.3 72.4,491.6 73.7,492.7 C75.0,493.8 79.0,495.6 80.6,496.1 C82.2,496.6 85.8,497.2 87.4,497.2 C89.0,497.2 92.6,496.8 94.2,496.1 C95.8,495.4 99.8,492.6 101.1,491.5 C102.4,490.4 104.5,488.1 105.6,487.0 C106.7,485.9 109.9,482.9 110.5,482.4" fill="none" stroke="#33a033" stroke-width="1.85" stroke-dasharray="4.5 2.6" stroke-dashoffset="-0.0" stroke-linecap="butt"/>
<path d="M110.5,482.4 L108.6,487.9 L104.9,484.0 Z" fill="#33a033"/>
<path d="M110.2,458.5 C110.3,458.7 111.5,460.7 111.5,461.0 C111.5,461.3 110.7,462.3 110.8,462.5 C110.9,462.7 112.2,463.2 112.5,463.5 C112.8,463.8 113.8,465.7 113.8,466.0 C113.8,466.3 112.7,467.3 112.8,467.5 C112.9,467.7 114.2,468.2 114.5,468.5 C114.8,468.8 115.9,470.7 115.9,471.0 C115.9,471.3 114.7,472.2 114.6,472.5 C114.5,472.8 115.3,474.0 115.2,474.5 C115.1,475.0 113.8,478.3 113.6,479.0 C113.4,479.7 112.6,482.1 112.5,482.4" fill="none" stroke="#e8d870" stroke-width="1.85" stroke-dasharray="4.5 2.6" stroke-dashoffset="-0.0" stroke-linecap="butt"/>
<path d="M90.4,467.0 C90.3,467.4 90.6,467.8 89.6,469.4 C88.6,471.0 86.3,474.3 84.6,476.5 C82.9,478.7 81.0,480.2 79.5,482.5 C78.0,484.8 76.5,487.9 75.4,490.0 C74.3,492.1 74.0,493.7 72.7,495.3" fill="none" stroke="#6a2a9a" stroke-width="1.85" stroke-dasharray="4.5 2.6" stroke-dashoffset="-0.0" stroke-linecap="butt"/>
<path d="M72.7,495.3 C71.4,496.9 68.9,498.5 67.4,499.7 C65.9,500.9 64.6,501.1 63.9,502.4 C63.2,503.7 63.3,505.6 63.0,507.7 C62.7,509.8 62.0,512.4 62.1,514.8 C62.2,517.2 63.2,519.2 63.9,521.9 C64.6,524.6 65.5,528.4 66.5,530.8 C67.5,533.2 69.2,534.3 70.1,536.1 C71.0,537.9 71.4,539.9 71.8,541.4 C72.2,542.9 71.7,543.7 72.7,544.9 C73.7,546.1 75.9,547.2 78.0,548.5 C80.1,549.8 82.5,551.3 85.1,552.9 C87.7,554.5 91.7,556.6 93.7,558.2 C95.7,559.9 96.1,560.9 97.1,562.8 C98.0,564.7 98.7,567.5 99.4,569.6" fill="none" stroke="#a07ccc" stroke-width="1.85" stroke-dasharray="4.5 2.6" stroke-dashoffset="-33.7" stroke-linecap="butt"/>
<path d="M99.4,569.6 C100.2,571.7 100.5,574.1 101.6,575.3 C102.7,576.4 104.7,576.1 106.2,576.5 C107.7,576.9 109.5,577.6 110.8,577.6 C112.1,577.6 113.2,575.9 114.2,576.5 C115.2,577.1 115.8,579.3 116.5,581.0 C117.2,582.7 118.7,585.0 118.7,586.7 C118.7,588.4 116.5,589.8 116.5,591.3 C116.5,592.8 117.6,594.7 118.7,595.8 C119.8,596.9 121.6,597.5 123.3,598.1 C125.0,598.7 127.3,598.2 129.0,599.2 C130.7,600.2 132.2,601.9 133.5,603.8" fill="none" stroke="#8858b8" stroke-width="1.85" stroke-dasharray="4.5 2.6" stroke-dashoffset="-127.8" stroke-linecap="butt"/>
<path d="M133.5,603.8 C134.8,605.7 135.8,608.3 136.9,610.6 C138.1,612.9 138.9,615.2 140.4,617.5 C141.9,619.8 145.2,623.2 146.1,624.3" fill="none" stroke="#6e34a0" stroke-width="1.85" stroke-dasharray="4.5 2.6" stroke-dashoffset="-186.3" stroke-linecap="butt"/>
<path d="M146.1,624.3 L140.7,622.0 L144.8,618.6 Z" fill="#6e34a0"/>
<path d="M289.0,520.8 C288.8,520.2 288.0,519.4 287.8,517.3 C287.6,515.2 287.8,511.2 287.8,508.2 C287.8,505.2 287.8,502.0 288.0,499.3 C288.2,496.6 288.4,494.6 288.9,492.2 C289.3,489.8 289.9,487.5 290.7,485.1 C291.4,482.7 292.5,480.4 293.4,478.0 C294.3,475.6 295.1,473.4 296.0,471.0 C296.9,468.6 297.7,467.1 298.7,463.9 C299.7,460.7 300.5,455.7 302.0,452.0 C303.5,448.3 305.7,444.4 307.5,441.5 C309.3,438.6 311.1,436.6 313.0,434.4 C314.9,432.1 316.8,429.9 319.0,428.0 C321.2,426.1 324.0,424.6 326.3,423.3 C328.6,422.0 330.8,420.7 333.0,420.0 C335.2,419.3 337.4,418.8 339.6,418.9 C341.8,418.9 343.8,419.6 346.0,420.3 C348.2,421.0 350.7,421.6 352.9,423.3 C355.1,425.0 357.5,428.7 359.3,430.4 C361.1,432.1 362.5,432.1 363.9,433.4 C365.3,434.7 366.3,436.2 367.7,438.0 C369.1,439.8 370.4,441.6 372.0,444.0 C373.6,446.4 375.8,449.4 377.3,452.1 C378.8,454.8 379.9,457.4 381.0,460.0 C382.1,462.6 383.1,465.3 383.9,467.6 C384.6,469.9 385.1,471.8 385.5,474.0 C385.9,476.2 386.0,479.8 386.1,481.0" fill="none" stroke="#f2c02e" stroke-width="1.85" stroke-dasharray="4.5 2.6" stroke-dashoffset="-0.0" stroke-linecap="butt"/>
<path d="M386.1,481.0 L383.0,476.0 L388.3,475.6 Z" fill="#f2c02e"/>
<path d="M277.7,503.0 C278.0,501.9 279.2,498.7 279.7,496.6 C280.2,494.5 280.2,492.5 280.7,490.5 C281.2,488.5 281.9,486.5 282.7,484.4 C283.5,482.3 284.5,479.9 285.4,478.0 C286.3,476.1 287.0,474.2 288.0,472.7 C289.0,471.2 290.3,470.4 291.6,469.2 C292.9,468.0 294.5,466.6 296.0,465.6 C297.5,464.6 298.8,463.0 300.4,463.0 C302.0,463.0 304.3,464.6 305.8,465.6 C307.3,466.6 308.1,468.8 309.3,469.2 C310.5,469.6 312.1,467.7 312.8,468.3 C313.5,468.9 313.1,471.4 313.7,472.7 C314.3,474.0 315.8,474.8 316.4,476.3 C317.0,477.8 316.9,480.4 317.3,481.6 C317.7,482.8 318.1,482.5 319.0,483.4 C319.9,484.3 321.6,485.4 322.6,486.9 C323.7,488.4 324.7,490.3 325.3,492.2 C325.9,494.1 326.1,496.3 326.1,498.4 C326.1,500.5 325.7,503.0 325.4,505.0 C325.1,507.0 324.9,508.1 324.3,510.5 C323.7,512.9 322.8,516.9 322.0,519.6 C321.2,522.3 320.3,524.2 319.7,526.5 C319.1,528.8 319.2,531.4 318.6,533.3 C318.0,535.2 317.6,536.3 316.3,537.8 C315.0,539.3 312.7,541.1 310.6,542.4 C308.5,543.7 305.7,544.8 303.8,545.8 C301.9,546.8 300.3,546.8 299.2,548.1 C298.1,549.4 298.1,552.3 297.0,553.8 C295.9,555.3 293.9,556.4 292.4,557.2 C290.9,558.0 289.1,558.6 287.8,558.4 C286.5,558.2 285.5,557.2 284.4,556.1 C283.3,555.0 282.1,552.8 281.0,551.5 C279.9,550.2 279.1,549.2 277.6,548.1 C276.1,547.0 273.4,546.0 271.9,544.7 C270.4,543.4 269.1,541.5 268.5,540.1 C267.9,538.7 268.8,537.2 268.0,536.5 C267.2,535.8 265.3,535.8 264.0,535.8 C262.7,535.8 261.7,536.4 260.4,536.3 C259.1,536.2 257.3,535.8 256.0,535.2 C254.7,534.6 253.1,533.2 252.5,532.8" fill="none" stroke="#5a2a9c" stroke-width="1.9" stroke-dasharray="4.5 2.6" stroke-dashoffset="-0.0" stroke-linecap="butt"/>
<path d="M247.3,523.9 L255,528.7 L247.3,532.2 Z" fill="#5a2a9c"/>
<path d="M267.3,526.5 C267.5,526.1 267.7,525.7 268.5,524.2 C269.3,522.7 271.1,520.0 271.9,517.3 C272.6,514.6 272.7,511.2 273.0,508.2 C273.3,505.1 273.5,501.7 273.6,499.0 C273.7,496.3 273.4,494.4 273.6,492.0 C273.8,489.6 274.1,486.1 274.6,484.4 C275.1,482.7 275.7,483.0 276.5,481.6 C277.3,480.2 278.2,477.8 279.2,476.3 C280.2,474.8 281.5,473.3 282.7,472.7 C283.9,472.1 284.5,472.7 286.3,472.7 C288.1,472.7 291.1,472.8 293.4,472.7 C295.7,472.6 298.6,472.4 299.9,472.3 C301.2,472.2 300.6,471.1 301.3,471.8 C302.0,472.5 303.0,474.7 304.0,476.3 C305.0,477.9 306.2,479.7 307.5,481.6 C308.8,483.5 311.1,485.7 312.0,487.8 C312.9,489.9 312.6,491.8 312.8,494.0 C313.1,496.2 313.3,498.4 313.5,501.0 C313.7,503.6 313.9,508.0 314.0,509.4" fill="none" stroke="#4a9a30" stroke-width="1.85" stroke-dasharray="4.5 2.6" stroke-dashoffset="-0.0" stroke-linecap="butt"/>
<path d="M314.0,509.4 L311.0,504.4 L316.4,504.0 Z" fill="#4a9a30"/>
<path d="M281.0,492.3 C281.9,492.1 284.8,490.7 286.7,491.1 C288.6,491.5 290.9,493.1 292.4,494.6 C293.9,496.1 295.2,498.0 295.8,500.3 C296.4,502.6 296.2,505.7 295.8,508.2 C295.4,510.7 294.6,513.4 293.5,515.1 C292.4,516.8 290.7,518.1 289.0,518.5 C287.3,518.9 284.8,518.4 283.3,517.3 C281.8,516.1 280.7,513.9 279.9,511.6 C279.1,509.3 278.8,506.2 278.7,503.7 C278.6,501.2 278.8,498.7 279.2,496.8 C279.6,494.9 280.7,493.1 281.0,492.3" fill="none" stroke="#4a90d8" stroke-width="1.85" stroke-dasharray="4.5 2.6" stroke-dashoffset="-0.0" stroke-linecap="butt"/>
<path d="M260.4,477.8 C260.8,477.9 261.6,478.0 262.9,478.4 C264.2,478.8 266.5,479.6 268.0,480.3 C269.5,481.0 270.8,481.8 271.8,482.8 C272.9,483.9 274.2,485.3 274.3,486.6 C274.4,487.9 273.0,489.2 272.4,490.4 C271.8,491.6 271.4,492.4 270.5,493.6 C269.6,494.8 268.6,496.5 266.7,497.4 C264.8,498.2 261.6,498.4 259.1,498.7 C256.6,499.0 253.8,499.4 251.5,499.3 C249.2,499.2 246.5,498.9 245.2,498.0 C243.9,497.1 244.4,495.5 243.9,494.2 C243.4,492.9 242.0,491.9 242.0,490.4 C242.0,488.9 243.2,486.0 243.9,485.4 C244.7,484.8 245.4,486.1 246.5,486.6 C247.6,487.1 249.1,488.9 250.3,488.5 C251.6,488.1 252.9,485.5 254.0,484.1 C255.1,482.7 255.9,481.5 256.6,480.3 C257.4,479.1 257.9,478.2 258.5,477.2 C259.1,476.1 260.1,475.4 260.4,474.0 C260.7,472.6 260.5,470.6 260.4,468.9 C260.3,467.2 260.3,465.3 259.7,463.9 C259.1,462.5 258.4,460.8 256.6,460.7 C254.8,460.6 251.3,462.6 249.0,463.2 C246.7,463.8 244.3,463.6 242.7,464.5 C241.1,465.4 240.6,467.3 239.5,468.9 C238.4,470.5 236.7,472.1 236.3,474.0 C235.9,475.9 236.8,478.2 237.0,480.3 C237.2,482.4 237.2,484.7 237.6,486.6 C238.0,488.5 238.9,490.4 239.5,491.7 C240.1,493.0 241.2,493.0 241.4,494.2 C241.6,495.4 240.7,497.4 240.5,499.0" fill="none" stroke="#e19c6c" stroke-width="1.85" stroke-dasharray="4.5 2.6" stroke-dashoffset="-0.0" stroke-linecap="butt"/>
<path d="M240.5,499.0 C240.3,500.6 239.4,502.1 240.2,503.7 C241.0,505.3 243.8,507.0 245.3,508.7 C246.8,510.4 247.6,512.1 249.3,513.8 C251.0,515.5 253.4,517.7 255.4,518.9 C257.4,520.1 259.5,520.2 261.5,520.9 C263.5,521.6 266.1,521.8 267.5,522.9 C268.9,524.0 268.7,526.2 269.6,527.6 C270.5,529.0 271.9,530.8 273.0,531.0 C274.1,531.2 275.0,529.7 276.5,528.7 C278.0,527.8 280.7,526.4 282.2,525.3 C283.7,524.2 284.3,523.0 285.6,521.9 C286.9,520.8 288.6,520.0 290.1,518.5 C291.6,517.0 293.4,514.9 294.7,512.8 C296.0,510.7 297.4,508.2 298.1,505.9 C298.9,503.6 299.2,501.4 299.2,499.1 C299.2,496.8 298.5,494.5 298.1,492.3 C297.7,490.1 297.5,487.8 296.9,486.0 C296.2,484.2 295.4,483.2 294.2,481.6 C293.0,480.0 290.5,477.2 289.8,476.3" fill="none" stroke="#a0602c" stroke-width="1.85" stroke-dasharray="4.5 2.6" stroke-dashoffset="-158.9" stroke-linecap="butt"/>
<text transform="translate(0.9,6.9) scale(0.78,1)" font-family="Liberation Sans" font-weight="bold" font-size="9.4" fill="#111" stroke="#111" stroke-width="0.3">A</text>
<text transform="translate(200.0,6.8) scale(0.78,1)" font-family="Liberation Sans" font-weight="bold" font-size="9.4" fill="#111" stroke="#111" stroke-width="0.3">B</text>
<text transform="translate(1.0,263.8) scale(0.78,1)" font-family="Liberation Sans" font-weight="bold" font-size="9.4" fill="#111" stroke="#111" stroke-width="0.3">C</text>
<text transform="translate(200.8,263.6) scale(0.78,1)" font-family="Liberation Sans" font-weight="bold" font-size="9.4" fill="#111" stroke="#111" stroke-width="0.3">D</text>
<text transform="translate(1.0,408.0) scale(0.78,1)" font-family="Liberation Sans" font-weight="bold" font-size="9.4" fill="#111" stroke="#111" stroke-width="0.3">E</text>
<text transform="translate(201.0,408.6) scale(0.78,1)" font-family="Liberation Sans" font-weight="bold" font-size="9.4" fill="#111" stroke="#111" stroke-width="0.3">F</text>
<text x="191.4" y="22.6" text-anchor="end" font-family="Liberation Serif" font-size="8.7" fill="#3a3434">Monophasic square</text>
<text x="177.4" y="32.0" text-anchor="end" font-family="Liberation Serif" font-size="8.7" fill="#3a3434">signal (left)</text>
<text x="223.5" y="22.8" text-anchor="start" font-family="Liberation Serif" font-size="8.7" fill="#3a3434">Monophasic square</text>
<text x="234.7" y="31.9" text-anchor="start" font-family="Liberation Serif" font-size="8.7" fill="#3a3434">signal (right)</text>
<text x="191.4" y="277.0" text-anchor="end" font-family="Liberation Serif" font-size="8.7" fill="#3a3434">Biphasic square</text>
<text x="182.9" y="285.8" text-anchor="end" font-family="Liberation Serif" font-size="8.7" fill="#3a3434">signal (left)</text>
<text x="223.6" y="277.0" text-anchor="start" font-family="Liberation Serif" font-size="8.7" fill="#3a3434">Biphasic square</text>
<text x="228.6" y="285.8" text-anchor="start" font-family="Liberation Serif" font-size="8.7" fill="#3a3434">signal (right)</text>
<text x="190.4" y="423.8" text-anchor="end" font-family="Liberation Serif" font-size="8.7" fill="#3a3434">Biphasic analog</text>
<text x="182.9" y="433.5" text-anchor="end" font-family="Liberation Serif" font-size="8.7" fill="#3a3434">signal (left)</text>
<text x="223.6" y="423.9" text-anchor="start" font-family="Liberation Serif" font-size="8.7" fill="#3a3434">Biphasic analog</text>
<text x="229.1" y="433.5" text-anchor="start" font-family="Liberation Serif" font-size="8.7" fill="#3a3434">signal (right)</text>
</svg></body></html>
